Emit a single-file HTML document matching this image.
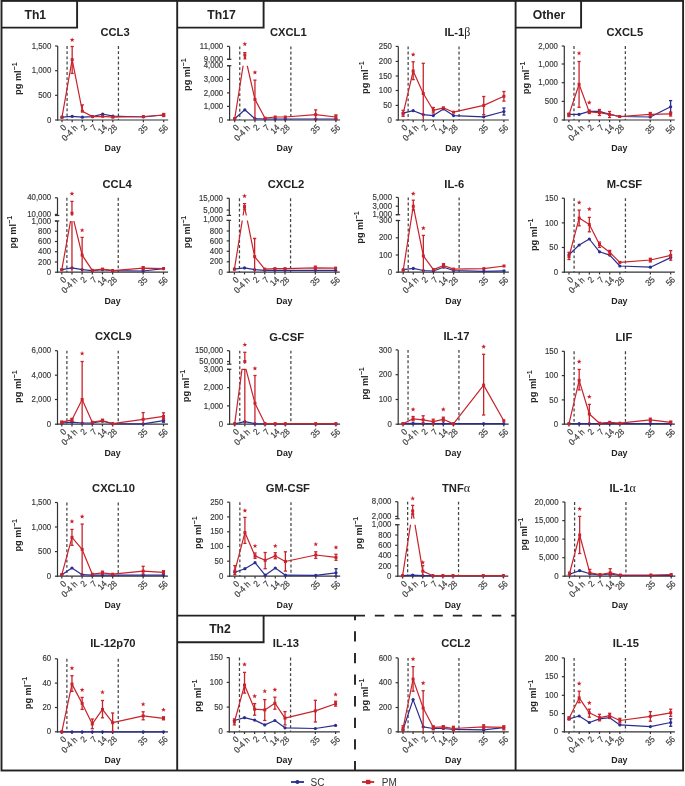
<!DOCTYPE html>
<html><head><meta charset="utf-8"><title>Cytokine figure</title><style>
html,body{margin:0;padding:0;background:#fff;overflow:hidden;}
svg{display:block;will-change:transform;}
text{font-family:"Liberation Sans", sans-serif;}
.hd{font-size:12.2px;font-weight:bold;fill:#222;text-anchor:middle;}
.ti{font-size:11.2px;font-weight:bold;fill:#222;text-anchor:middle;}
.gk{font-family:"Liberation Serif",serif;font-weight:normal;font-size:12px;}
.yl{font-size:9.2px;font-weight:bold;fill:#222;text-anchor:middle;}
.sup{font-size:7px;}
.day{font-size:9.6px;font-weight:bold;fill:#222;text-anchor:middle;}
.yt{font-size:8.7px;fill:#3a3a3a;text-anchor:end;stroke:#3a3a3a;stroke-width:0.18px;}
.xt{font-size:8.9px;fill:#3a3a3a;text-anchor:end;stroke:#3a3a3a;stroke-width:0.18px;}
.lg{font-size:10px;fill:#333;}
.st{font-size:11px;fill:#c8232b;text-anchor:middle;}
.ax{stroke:#333;stroke-width:1.2;fill:none;}
.dl{stroke:#444;stroke-width:1.25;stroke-dasharray:2.9 2.3;fill:none;}
.lpm{stroke:#c8232b;stroke-width:1.2;fill:none;stroke-linejoin:round;}
.lsc{stroke:#2b2d8e;stroke-width:1.2;fill:none;stroke-linejoin:round;}
.epm{stroke:#c8232b;stroke-width:1.3;fill:none;}
.esc{stroke:#2b2d8e;stroke-width:1.3;fill:none;}
</style></head>
<body><svg width="685" height="786" viewBox="0 0 685 786">
<rect x="1.5" y="0.9" width="681.6" height="769.6" fill="none" stroke="#222" stroke-width="1.9"/>
<line x1="177.2" y1="0" x2="177.2" y2="771" stroke="#222" stroke-width="1.9"/>
<line x1="515.6" y1="0" x2="515.6" y2="771" stroke="#222" stroke-width="1.9"/>
<polyline points="77.1,0 77.1,27.6 1.5,27.6" fill="none" stroke="#222" stroke-width="1.9"/>
<polyline points="263.6,0 263.6,27.6 177.2,27.6" fill="none" stroke="#222" stroke-width="1.9"/>
<polyline points="581.1,0 581.1,27.6 515.6,27.6" fill="none" stroke="#222" stroke-width="1.9"/>
<text x="35.3" y="18.6" class="hd">Th1</text>
<text x="221.5" y="18.6" class="hd">Th17</text>
<text x="549" y="18.6" class="hd">Other</text>
<line x1="177.2" y1="615.6" x2="365" y2="615.6" stroke="#222" stroke-width="1.9"/>
<line x1="374.8" y1="615.6" x2="515.6" y2="615.6" stroke="#222" stroke-width="1.9" stroke-dasharray="9.5 10"/>
<line x1="355" y1="615.6" x2="355" y2="620.3" stroke="#222" stroke-width="1.9"/>
<line x1="355" y1="631.3" x2="355" y2="771" stroke="#222" stroke-width="1.9" stroke-dasharray="10.3 11.3"/>
<polyline points="263.6,615.6 263.6,642.2 177.2,642.2" fill="none" stroke="#222" stroke-width="1.9"/>
<text x="220" y="633.3" class="hd">Th2</text>
<line x1="291" y1="782" x2="304" y2="782" stroke="#2b2d8e" stroke-width="1.8"/>
<circle cx="297.4" cy="782" r="2" fill="#2b2d8e"/>
<text x="310.6" y="785.6" class="lg">SC</text>
<line x1="362" y1="782" x2="374.2" y2="782" stroke="#c8232b" stroke-width="1.8"/>
<rect x="366" y="779.8" width="4.4" height="4.4" fill="#c8232b"/>
<text x="381.8" y="785.6" class="lg">PM</text>
<text x="115" y="36" class="ti">CCL3</text>
<text transform="translate(20.9 78.65) rotate(-90)" class="yl">pg ml<tspan dy="-3.8" class="sup">−1</tspan></text>
<text transform="translate(112.7 151.3) scale(0.92 1)" class="day">Day</text>
<line x1="57.7" y1="120.6" x2="57.7" y2="46" class="ax"/>
<line x1="57.1" y1="120" x2="168.2" y2="120" class="ax"/>
<line x1="55.1" y1="46" x2="57.7" y2="46" class="ax"/>
<text transform="translate(51.3 48.6) scale(0.9 1)" class="yt">1,500</text>
<line x1="55.1" y1="70.7" x2="57.7" y2="70.7" class="ax"/>
<text transform="translate(51.3 73.3) scale(0.9 1)" class="yt">1,000</text>
<line x1="55.1" y1="95.3" x2="57.7" y2="95.3" class="ax"/>
<text transform="translate(51.3 97.9) scale(0.9 1)" class="yt">500</text>
<line x1="55.1" y1="120" x2="57.7" y2="120" class="ax"/>
<text transform="translate(51.3 122.6) scale(0.9 1)" class="yt">0</text>
<line x1="62" y1="120" x2="62" y2="122.2" class="ax"/>
<text transform="translate(67 128.1) rotate(-45) scale(0.9 1)" class="xt">0</text>
<line x1="72.17" y1="120" x2="72.17" y2="122.2" class="ax"/>
<text transform="translate(78.07 128.7) rotate(-45) scale(0.9 1)" class="xt">0-4 h</text>
<line x1="82.34" y1="120" x2="82.34" y2="122.2" class="ax"/>
<text transform="translate(87.34 128.1) rotate(-45) scale(0.9 1)" class="xt">2</text>
<line x1="92.51" y1="120" x2="92.51" y2="122.2" class="ax"/>
<text transform="translate(97.51 128.1) rotate(-45) scale(0.9 1)" class="xt">7</text>
<line x1="102.68" y1="120" x2="102.68" y2="122.2" class="ax"/>
<text transform="translate(107.68 128.1) rotate(-45) scale(0.9 1)" class="xt">14</text>
<line x1="112.85" y1="120" x2="112.85" y2="122.2" class="ax"/>
<text transform="translate(117.85 128.1) rotate(-45) scale(0.9 1)" class="xt">28</text>
<line x1="143.36" y1="120" x2="143.36" y2="122.2" class="ax"/>
<text transform="translate(148.36 128.1) rotate(-45) scale(0.9 1)" class="xt">35</text>
<line x1="163.7" y1="120" x2="163.7" y2="122.2" class="ax"/>
<text transform="translate(168.7 128.1) rotate(-45) scale(0.9 1)" class="xt">56</text>
<line x1="67.08" y1="46" x2="67.08" y2="120" class="dl"/>
<line x1="118.44" y1="46" x2="118.44" y2="120" class="dl"/>
<g>
<polyline points="62,117.2 72.17,116.3 82.34,117.2 92.51,116.6 102.68,114 112.85,116.1 143.36,117 163.7,115" class="lsc"/>
</g>
<circle cx="62" cy="117.2" r="1.6" fill="#2b2d8e"/>
<circle cx="72.17" cy="116.3" r="1.6" fill="#2b2d8e"/>
<circle cx="82.34" cy="117.2" r="1.6" fill="#2b2d8e"/>
<circle cx="92.51" cy="116.6" r="1.6" fill="#2b2d8e"/>
<circle cx="102.68" cy="114" r="1.6" fill="#2b2d8e"/>
<circle cx="112.85" cy="116.1" r="1.6" fill="#2b2d8e"/>
<circle cx="143.36" cy="117" r="1.6" fill="#2b2d8e"/>
<circle cx="163.7" cy="115" r="1.6" fill="#2b2d8e"/>
<g>
<polyline points="62,117.2 72.17,59.6 82.34,111.2 92.51,116.6 102.68,116.3 112.85,117.2 143.36,116.5 163.7,115" class="lpm"/>
<line x1="72.17" y1="73.4" x2="72.17" y2="46.5" class="epm"/>
<line x1="70.57" y1="46.5" x2="73.77" y2="46.5" class="epm"/>
<line x1="70.57" y1="73.4" x2="73.77" y2="73.4" class="epm"/>
<line x1="82.34" y1="111.2" x2="82.34" y2="104.9" class="epm"/>
<line x1="80.74" y1="104.9" x2="83.94" y2="104.9" class="epm"/>
<line x1="163.7" y1="116.5" x2="163.7" y2="113.5" class="epm"/>
<line x1="162.1" y1="113.5" x2="165.3" y2="113.5" class="epm"/>
<line x1="162.1" y1="116.5" x2="165.3" y2="116.5" class="epm"/>
</g>
<rect x="60.5" y="115.7" width="3" height="3" fill="#c8232b"/>
<rect x="70.67" y="58.1" width="3" height="3" fill="#c8232b"/>
<rect x="80.84" y="109.7" width="3" height="3" fill="#c8232b"/>
<rect x="91.01" y="115.1" width="3" height="3" fill="#c8232b"/>
<rect x="101.18" y="114.8" width="3" height="3" fill="#c8232b"/>
<rect x="111.35" y="115.7" width="3" height="3" fill="#c8232b"/>
<rect x="141.86" y="115" width="3" height="3" fill="#c8232b"/>
<rect x="162.2" y="113.5" width="3" height="3" fill="#c8232b"/>
<polygon points="72.17,37.4 72.79,39.05 74.55,39.13 73.17,40.22 73.64,41.92 72.17,40.95 70.7,41.92 71.17,40.22 69.79,39.13 71.55,39.05" fill="#c8232b"/>

<text x="288.3" y="36" class="ti">CXCL1</text>
<text transform="translate(189.9 74.7) rotate(-90)" class="yl">pg ml<tspan dy="-3.8" class="sup">−1</tspan></text>
<text transform="translate(284.6 151.3) scale(0.92 1)" class="day">Day</text>
<line x1="229.6" y1="120.6" x2="229.6" y2="65.7" class="ax"/>
<line x1="229.6" y1="59.3" x2="229.6" y2="46.4" class="ax"/>
<line x1="227" y1="59.3" x2="231.4" y2="59.3" class="ax"/>
<line x1="227" y1="65.7" x2="231.4" y2="65.7" class="ax"/>
<line x1="229" y1="120" x2="340.1" y2="120" class="ax"/>
<line x1="227" y1="46.4" x2="229.6" y2="46.4" class="ax"/>
<text transform="translate(223.2 49) scale(0.9 1)" class="yt">11,000</text>
<line x1="227" y1="59.3" x2="229.6" y2="59.3" class="ax"/>
<text transform="translate(223.2 61.9) scale(0.9 1)" class="yt">9,000</text>
<line x1="227" y1="65.7" x2="229.6" y2="65.7" class="ax"/>
<text transform="translate(223.2 68.3) scale(0.9 1)" class="yt">4,000</text>
<line x1="227" y1="79.4" x2="229.6" y2="79.4" class="ax"/>
<text transform="translate(223.2 82) scale(0.9 1)" class="yt">3,000</text>
<line x1="227" y1="92.9" x2="229.6" y2="92.9" class="ax"/>
<text transform="translate(223.2 95.5) scale(0.9 1)" class="yt">2,000</text>
<line x1="227" y1="106.4" x2="229.6" y2="106.4" class="ax"/>
<text transform="translate(223.2 109) scale(0.9 1)" class="yt">1,000</text>
<line x1="227" y1="120" x2="229.6" y2="120" class="ax"/>
<text transform="translate(223.2 122.6) scale(0.9 1)" class="yt">0</text>
<line x1="234.7" y1="120" x2="234.7" y2="122.2" class="ax"/>
<text transform="translate(239.7 128.1) rotate(-45) scale(0.9 1)" class="xt">0</text>
<line x1="244.82" y1="120" x2="244.82" y2="122.2" class="ax"/>
<text transform="translate(250.72 128.7) rotate(-45) scale(0.9 1)" class="xt">0-4 h</text>
<line x1="254.94" y1="120" x2="254.94" y2="122.2" class="ax"/>
<text transform="translate(259.94 128.1) rotate(-45) scale(0.9 1)" class="xt">2</text>
<line x1="265.06" y1="120" x2="265.06" y2="122.2" class="ax"/>
<text transform="translate(270.06 128.1) rotate(-45) scale(0.9 1)" class="xt">7</text>
<line x1="275.18" y1="120" x2="275.18" y2="122.2" class="ax"/>
<text transform="translate(280.18 128.1) rotate(-45) scale(0.9 1)" class="xt">14</text>
<line x1="285.3" y1="120" x2="285.3" y2="122.2" class="ax"/>
<text transform="translate(290.3 128.1) rotate(-45) scale(0.9 1)" class="xt">28</text>
<line x1="315.66" y1="120" x2="315.66" y2="122.2" class="ax"/>
<text transform="translate(320.66 128.1) rotate(-45) scale(0.9 1)" class="xt">35</text>
<line x1="335.9" y1="120" x2="335.9" y2="122.2" class="ax"/>
<text transform="translate(340.9 128.1) rotate(-45) scale(0.9 1)" class="xt">56</text>
<line x1="239.76" y1="46.4" x2="239.76" y2="120" class="dl"/>
<line x1="290.87" y1="46.4" x2="290.87" y2="120" class="dl"/>
<clipPath id="c1"><rect x="224.6" y="10" width="125" height="49.3"/><rect x="224.6" y="65.7" width="125" height="64.3"/></clipPath>
<g clip-path="url(#c1)">
<polyline points="234.7,118.7 244.82,109.8 254.94,118.7 265.06,119 275.18,119 285.3,119 315.66,119 335.9,119" class="lsc"/>
</g>
<circle cx="234.7" cy="118.7" r="1.6" fill="#2b2d8e"/>
<circle cx="244.82" cy="109.8" r="1.6" fill="#2b2d8e"/>
<circle cx="254.94" cy="118.7" r="1.6" fill="#2b2d8e"/>
<circle cx="265.06" cy="119" r="1.6" fill="#2b2d8e"/>
<circle cx="275.18" cy="119" r="1.6" fill="#2b2d8e"/>
<circle cx="285.3" cy="119" r="1.6" fill="#2b2d8e"/>
<circle cx="315.66" cy="119" r="1.6" fill="#2b2d8e"/>
<circle cx="335.9" cy="119" r="1.6" fill="#2b2d8e"/>
<g clip-path="url(#c1)">
<polyline points="234.7,118.7 244.82,55 254.94,99.4 265.06,118.2 275.18,117 285.3,117 315.66,114.6 335.9,117" class="lpm"/>
<line x1="244.82" y1="59.6" x2="244.82" y2="52.6" class="epm"/>
<line x1="243.22" y1="52.6" x2="246.42" y2="52.6" class="epm"/>
<line x1="243.22" y1="59.6" x2="246.42" y2="59.6" class="epm"/>
<line x1="254.94" y1="120" x2="254.94" y2="80.1" class="epm"/>
<line x1="253.34" y1="80.1" x2="256.54" y2="80.1" class="epm"/>
<line x1="315.66" y1="118.7" x2="315.66" y2="109.8" class="epm"/>
<line x1="314.06" y1="109.8" x2="317.26" y2="109.8" class="epm"/>
<line x1="314.06" y1="118.7" x2="317.26" y2="118.7" class="epm"/>
<line x1="335.9" y1="119" x2="335.9" y2="115" class="epm"/>
<line x1="334.3" y1="115" x2="337.5" y2="115" class="epm"/>
<line x1="334.3" y1="119" x2="337.5" y2="119" class="epm"/>
</g>
<rect x="233.2" y="117.2" width="3" height="3" fill="#c8232b"/>
<rect x="243.32" y="53.5" width="3" height="3" fill="#c8232b"/>
<rect x="253.44" y="97.9" width="3" height="3" fill="#c8232b"/>
<rect x="263.56" y="116.7" width="3" height="3" fill="#c8232b"/>
<rect x="273.68" y="115.5" width="3" height="3" fill="#c8232b"/>
<rect x="283.8" y="115.5" width="3" height="3" fill="#c8232b"/>
<rect x="314.16" y="113.1" width="3" height="3" fill="#c8232b"/>
<rect x="334.4" y="115.5" width="3" height="3" fill="#c8232b"/>
<polygon points="244.82,41.6 245.44,43.25 247.2,43.33 245.82,44.42 246.29,46.12 244.82,45.15 243.35,46.12 243.82,44.42 242.44,43.33 244.2,43.25" fill="#c8232b"/>
<polygon points="254.94,69.9 255.56,71.55 257.32,71.63 255.94,72.72 256.41,74.42 254.94,73.45 253.47,74.42 253.94,72.72 252.56,71.63 254.32,71.55" fill="#c8232b"/>

<text x="457.4" y="36" class="ti">IL-1<tspan class="gk">β</tspan></text>
<text transform="translate(367.8 77.7) rotate(-90)" class="yl">pg ml<tspan dy="-3.8" class="sup">−1</tspan></text>
<text transform="translate(453.3 151.3) scale(0.92 1)" class="day">Day</text>
<line x1="398.3" y1="120.6" x2="398.3" y2="46.4" class="ax"/>
<line x1="397.7" y1="120" x2="508.8" y2="120" class="ax"/>
<line x1="395.7" y1="46.4" x2="398.3" y2="46.4" class="ax"/>
<text transform="translate(391.9 49) scale(0.9 1)" class="yt">250</text>
<line x1="395.7" y1="61.4" x2="398.3" y2="61.4" class="ax"/>
<text transform="translate(391.9 64) scale(0.9 1)" class="yt">200</text>
<line x1="395.7" y1="76" x2="398.3" y2="76" class="ax"/>
<text transform="translate(391.9 78.6) scale(0.9 1)" class="yt">150</text>
<line x1="395.7" y1="90.5" x2="398.3" y2="90.5" class="ax"/>
<text transform="translate(391.9 93.1) scale(0.9 1)" class="yt">100</text>
<line x1="395.7" y1="105.4" x2="398.3" y2="105.4" class="ax"/>
<text transform="translate(391.9 108) scale(0.9 1)" class="yt">50</text>
<line x1="395.7" y1="120" x2="398.3" y2="120" class="ax"/>
<text transform="translate(391.9 122.6) scale(0.9 1)" class="yt">0</text>
<line x1="403.1" y1="120" x2="403.1" y2="122.2" class="ax"/>
<text transform="translate(408.1 128.1) rotate(-45) scale(0.9 1)" class="xt">0</text>
<line x1="413.18" y1="120" x2="413.18" y2="122.2" class="ax"/>
<text transform="translate(419.08 128.7) rotate(-45) scale(0.9 1)" class="xt">0-4 h</text>
<line x1="423.26" y1="120" x2="423.26" y2="122.2" class="ax"/>
<text transform="translate(428.26 128.1) rotate(-45) scale(0.9 1)" class="xt">2</text>
<line x1="433.34" y1="120" x2="433.34" y2="122.2" class="ax"/>
<text transform="translate(438.34 128.1) rotate(-45) scale(0.9 1)" class="xt">7</text>
<line x1="443.42" y1="120" x2="443.42" y2="122.2" class="ax"/>
<text transform="translate(448.42 128.1) rotate(-45) scale(0.9 1)" class="xt">14</text>
<line x1="453.5" y1="120" x2="453.5" y2="122.2" class="ax"/>
<text transform="translate(458.5 128.1) rotate(-45) scale(0.9 1)" class="xt">28</text>
<line x1="483.74" y1="120" x2="483.74" y2="122.2" class="ax"/>
<text transform="translate(488.74 128.1) rotate(-45) scale(0.9 1)" class="xt">35</text>
<line x1="503.9" y1="120" x2="503.9" y2="122.2" class="ax"/>
<text transform="translate(508.9 128.1) rotate(-45) scale(0.9 1)" class="xt">56</text>
<line x1="408.14" y1="46.4" x2="408.14" y2="120" class="dl"/>
<line x1="459.04" y1="46.4" x2="459.04" y2="120" class="dl"/>
<g>
<polyline points="403.1,113.1 413.18,110.7 423.26,114.6 433.34,115.6 443.42,109 453.5,115.6 483.74,116.8 503.9,111.5" class="lsc"/>
<line x1="503.9" y1="115" x2="503.9" y2="108" class="esc"/>
<line x1="502.3" y1="108" x2="505.5" y2="108" class="esc"/>
<line x1="502.3" y1="115" x2="505.5" y2="115" class="esc"/>
</g>
<circle cx="403.1" cy="113.1" r="1.6" fill="#2b2d8e"/>
<circle cx="413.18" cy="110.7" r="1.6" fill="#2b2d8e"/>
<circle cx="423.26" cy="114.6" r="1.6" fill="#2b2d8e"/>
<circle cx="433.34" cy="115.6" r="1.6" fill="#2b2d8e"/>
<circle cx="443.42" cy="109" r="1.6" fill="#2b2d8e"/>
<circle cx="453.5" cy="115.6" r="1.6" fill="#2b2d8e"/>
<circle cx="483.74" cy="116.8" r="1.6" fill="#2b2d8e"/>
<circle cx="503.9" cy="111.5" r="1.6" fill="#2b2d8e"/>
<g>
<polyline points="403.1,113.9 413.18,71 423.26,93.5 433.34,110.3 443.42,107.8 453.5,112.2 483.74,105.4 503.9,96.3" class="lpm"/>
<line x1="403.1" y1="116.3" x2="403.1" y2="110.3" class="epm"/>
<line x1="401.5" y1="110.3" x2="404.7" y2="110.3" class="epm"/>
<line x1="401.5" y1="116.3" x2="404.7" y2="116.3" class="epm"/>
<line x1="413.18" y1="79.6" x2="413.18" y2="61.8" class="epm"/>
<line x1="411.58" y1="61.8" x2="414.78" y2="61.8" class="epm"/>
<line x1="411.58" y1="79.6" x2="414.78" y2="79.6" class="epm"/>
<line x1="423.26" y1="120" x2="423.26" y2="63.3" class="epm"/>
<line x1="421.66" y1="63.3" x2="424.86" y2="63.3" class="epm"/>
<line x1="433.34" y1="113" x2="433.34" y2="107.5" class="epm"/>
<line x1="431.74" y1="107.5" x2="434.94" y2="107.5" class="epm"/>
<line x1="431.74" y1="113" x2="434.94" y2="113" class="epm"/>
<line x1="483.74" y1="114.6" x2="483.74" y2="96.5" class="epm"/>
<line x1="482.14" y1="96.5" x2="485.34" y2="96.5" class="epm"/>
<line x1="482.14" y1="114.6" x2="485.34" y2="114.6" class="epm"/>
<line x1="503.9" y1="101.1" x2="503.9" y2="91.5" class="epm"/>
<line x1="502.3" y1="91.5" x2="505.5" y2="91.5" class="epm"/>
<line x1="502.3" y1="101.1" x2="505.5" y2="101.1" class="epm"/>
</g>
<rect x="401.6" y="112.4" width="3" height="3" fill="#c8232b"/>
<rect x="411.68" y="69.5" width="3" height="3" fill="#c8232b"/>
<rect x="421.76" y="92" width="3" height="3" fill="#c8232b"/>
<rect x="431.84" y="108.8" width="3" height="3" fill="#c8232b"/>
<rect x="441.92" y="106.3" width="3" height="3" fill="#c8232b"/>
<rect x="452" y="110.7" width="3" height="3" fill="#c8232b"/>
<rect x="482.24" y="103.9" width="3" height="3" fill="#c8232b"/>
<rect x="502.4" y="94.8" width="3" height="3" fill="#c8232b"/>
<polygon points="413.18,52.1 413.8,53.75 415.56,53.83 414.18,54.92 414.65,56.62 413.18,55.65 411.71,56.62 412.18,54.92 410.8,53.83 412.56,53.75" fill="#c8232b"/>

<text x="624.8" y="36" class="ti">CXCL5</text>
<text transform="translate(528.7 77.9) rotate(-90)" class="yl">pg ml<tspan dy="-3.8" class="sup">−1</tspan></text>
<text transform="translate(619.3 151.3) scale(0.92 1)" class="day">Day</text>
<line x1="564.3" y1="120.6" x2="564.3" y2="46" class="ax"/>
<line x1="563.7" y1="120" x2="674.8" y2="120" class="ax"/>
<line x1="561.7" y1="46" x2="564.3" y2="46" class="ax"/>
<text transform="translate(557.9 48.6) scale(0.9 1)" class="yt">2,000</text>
<line x1="561.7" y1="64" x2="564.3" y2="64" class="ax"/>
<text transform="translate(557.9 66.6) scale(0.9 1)" class="yt">1,000</text>
<line x1="561.7" y1="82.7" x2="564.3" y2="82.7" class="ax"/>
<text transform="translate(557.9 85.3) scale(0.9 1)" class="yt">1,000</text>
<line x1="561.7" y1="101.4" x2="564.3" y2="101.4" class="ax"/>
<text transform="translate(557.9 104) scale(0.9 1)" class="yt">500</text>
<line x1="561.7" y1="120" x2="564.3" y2="120" class="ax"/>
<text transform="translate(557.9 122.6) scale(0.9 1)" class="yt">0</text>
<line x1="568.9" y1="120" x2="568.9" y2="122.2" class="ax"/>
<text transform="translate(573.9 128.1) rotate(-45) scale(0.9 1)" class="xt">0</text>
<line x1="579.07" y1="120" x2="579.07" y2="122.2" class="ax"/>
<text transform="translate(584.97 128.7) rotate(-45) scale(0.9 1)" class="xt">0-4 h</text>
<line x1="589.24" y1="120" x2="589.24" y2="122.2" class="ax"/>
<text transform="translate(594.24 128.1) rotate(-45) scale(0.9 1)" class="xt">2</text>
<line x1="599.41" y1="120" x2="599.41" y2="122.2" class="ax"/>
<text transform="translate(604.41 128.1) rotate(-45) scale(0.9 1)" class="xt">7</text>
<line x1="609.58" y1="120" x2="609.58" y2="122.2" class="ax"/>
<text transform="translate(614.58 128.1) rotate(-45) scale(0.9 1)" class="xt">14</text>
<line x1="619.75" y1="120" x2="619.75" y2="122.2" class="ax"/>
<text transform="translate(624.75 128.1) rotate(-45) scale(0.9 1)" class="xt">28</text>
<line x1="650.26" y1="120" x2="650.26" y2="122.2" class="ax"/>
<text transform="translate(655.26 128.1) rotate(-45) scale(0.9 1)" class="xt">35</text>
<line x1="670.6" y1="120" x2="670.6" y2="122.2" class="ax"/>
<text transform="translate(675.6 128.1) rotate(-45) scale(0.9 1)" class="xt">56</text>
<line x1="573.99" y1="46" x2="573.99" y2="120" class="dl"/>
<line x1="625.34" y1="46" x2="625.34" y2="120" class="dl"/>
<g>
<polyline points="568.9,114.4 579.07,114.4 589.24,111.4 599.41,111.4 609.58,114.4 619.75,116.5 650.26,117 670.6,106.8" class="lsc"/>
<line x1="670.6" y1="113.1" x2="670.6" y2="100.6" class="esc"/>
<line x1="669" y1="100.6" x2="672.2" y2="100.6" class="esc"/>
<line x1="669" y1="113.1" x2="672.2" y2="113.1" class="esc"/>
</g>
<circle cx="568.9" cy="114.4" r="1.6" fill="#2b2d8e"/>
<circle cx="579.07" cy="114.4" r="1.6" fill="#2b2d8e"/>
<circle cx="589.24" cy="111.4" r="1.6" fill="#2b2d8e"/>
<circle cx="599.41" cy="111.4" r="1.6" fill="#2b2d8e"/>
<circle cx="609.58" cy="114.4" r="1.6" fill="#2b2d8e"/>
<circle cx="619.75" cy="116.5" r="1.6" fill="#2b2d8e"/>
<circle cx="650.26" cy="117" r="1.6" fill="#2b2d8e"/>
<circle cx="670.6" cy="106.8" r="1.6" fill="#2b2d8e"/>
<g>
<polyline points="568.9,114.9 579.07,84.3 589.24,111.9 599.41,112.6 609.58,114.4 619.75,116.5 650.26,114.4 670.6,113.9" class="lpm"/>
<line x1="568.9" y1="116.5" x2="568.9" y2="113.2" class="epm"/>
<line x1="567.3" y1="113.2" x2="570.5" y2="113.2" class="epm"/>
<line x1="567.3" y1="116.5" x2="570.5" y2="116.5" class="epm"/>
<line x1="579.07" y1="107.3" x2="579.07" y2="61.5" class="epm"/>
<line x1="577.47" y1="61.5" x2="580.67" y2="61.5" class="epm"/>
<line x1="577.47" y1="107.3" x2="580.67" y2="107.3" class="epm"/>
<line x1="589.24" y1="113.5" x2="589.24" y2="110" class="epm"/>
<line x1="587.64" y1="110" x2="590.84" y2="110" class="epm"/>
<line x1="587.64" y1="113.5" x2="590.84" y2="113.5" class="epm"/>
<line x1="599.41" y1="115.5" x2="599.41" y2="109.5" class="epm"/>
<line x1="597.81" y1="109.5" x2="601.01" y2="109.5" class="epm"/>
<line x1="597.81" y1="115.5" x2="601.01" y2="115.5" class="epm"/>
<line x1="609.58" y1="117.5" x2="609.58" y2="111.5" class="epm"/>
<line x1="607.98" y1="111.5" x2="611.18" y2="111.5" class="epm"/>
<line x1="607.98" y1="117.5" x2="611.18" y2="117.5" class="epm"/>
<line x1="650.26" y1="116.5" x2="650.26" y2="112.5" class="epm"/>
<line x1="648.66" y1="112.5" x2="651.86" y2="112.5" class="epm"/>
<line x1="648.66" y1="116.5" x2="651.86" y2="116.5" class="epm"/>
<line x1="670.6" y1="116" x2="670.6" y2="112" class="epm"/>
<line x1="669" y1="112" x2="672.2" y2="112" class="epm"/>
<line x1="669" y1="116" x2="672.2" y2="116" class="epm"/>
</g>
<rect x="567.4" y="113.4" width="3" height="3" fill="#c8232b"/>
<rect x="577.57" y="82.8" width="3" height="3" fill="#c8232b"/>
<rect x="587.74" y="110.4" width="3" height="3" fill="#c8232b"/>
<rect x="597.91" y="111.1" width="3" height="3" fill="#c8232b"/>
<rect x="608.08" y="112.9" width="3" height="3" fill="#c8232b"/>
<rect x="618.25" y="115" width="3" height="3" fill="#c8232b"/>
<rect x="648.76" y="112.9" width="3" height="3" fill="#c8232b"/>
<rect x="669.1" y="112.4" width="3" height="3" fill="#c8232b"/>
<polygon points="579.07,50.8 579.69,52.45 581.45,52.53 580.07,53.62 580.54,55.32 579.07,54.35 577.6,55.32 578.07,53.62 576.69,52.53 578.45,52.45" fill="#c8232b"/>
<polygon points="589.24,100.1 589.86,101.75 591.62,101.83 590.24,102.92 590.71,104.62 589.24,103.65 587.77,104.62 588.24,102.92 586.86,101.83 588.62,101.75" fill="#c8232b"/>

<text x="117.1" y="187.7" class="ti">CCL4</text>
<text transform="translate(16 232.2) rotate(-90)" class="yl">pg ml<tspan dy="-3.8" class="sup">−1</tspan></text>
<text transform="translate(112.5 303.5) scale(0.92 1)" class="day">Day</text>
<line x1="57.5" y1="272.8" x2="57.5" y2="221" class="ax"/>
<line x1="57.5" y1="215.5" x2="57.5" y2="197.8" class="ax"/>
<line x1="54.9" y1="215.5" x2="59.3" y2="215.5" class="ax"/>
<line x1="54.9" y1="221" x2="59.3" y2="221" class="ax"/>
<line x1="56.9" y1="272.2" x2="168" y2="272.2" class="ax"/>
<line x1="54.9" y1="197.8" x2="57.5" y2="197.8" class="ax"/>
<text transform="translate(51.1 200.4) scale(0.9 1)" class="yt">40,000</text>
<line x1="54.9" y1="214.4" x2="57.5" y2="214.4" class="ax"/>
<text transform="translate(51.1 217) scale(0.9 1)" class="yt">10,000</text>
<line x1="54.9" y1="221" x2="57.5" y2="221" class="ax"/>
<text transform="translate(51.1 223.6) scale(0.9 1)" class="yt">1,000</text>
<line x1="54.9" y1="231.2" x2="57.5" y2="231.2" class="ax"/>
<text transform="translate(51.1 233.8) scale(0.9 1)" class="yt">800</text>
<line x1="54.9" y1="241.5" x2="57.5" y2="241.5" class="ax"/>
<text transform="translate(51.1 244.1) scale(0.9 1)" class="yt">600</text>
<line x1="54.9" y1="251.7" x2="57.5" y2="251.7" class="ax"/>
<text transform="translate(51.1 254.3) scale(0.9 1)" class="yt">400</text>
<line x1="54.9" y1="262" x2="57.5" y2="262" class="ax"/>
<text transform="translate(51.1 264.6) scale(0.9 1)" class="yt">200</text>
<line x1="54.9" y1="272.2" x2="57.5" y2="272.2" class="ax"/>
<text transform="translate(51.1 274.8) scale(0.9 1)" class="yt">0</text>
<line x1="61.8" y1="272.2" x2="61.8" y2="274.4" class="ax"/>
<text transform="translate(66.8 280.3) rotate(-45) scale(0.9 1)" class="xt">0</text>
<line x1="71.97" y1="272.2" x2="71.97" y2="274.4" class="ax"/>
<text transform="translate(77.87 280.9) rotate(-45) scale(0.9 1)" class="xt">0-4 h</text>
<line x1="82.14" y1="272.2" x2="82.14" y2="274.4" class="ax"/>
<text transform="translate(87.14 280.3) rotate(-45) scale(0.9 1)" class="xt">2</text>
<line x1="92.31" y1="272.2" x2="92.31" y2="274.4" class="ax"/>
<text transform="translate(97.31 280.3) rotate(-45) scale(0.9 1)" class="xt">7</text>
<line x1="102.48" y1="272.2" x2="102.48" y2="274.4" class="ax"/>
<text transform="translate(107.48 280.3) rotate(-45) scale(0.9 1)" class="xt">14</text>
<line x1="112.65" y1="272.2" x2="112.65" y2="274.4" class="ax"/>
<text transform="translate(117.65 280.3) rotate(-45) scale(0.9 1)" class="xt">28</text>
<line x1="143.16" y1="272.2" x2="143.16" y2="274.4" class="ax"/>
<text transform="translate(148.16 280.3) rotate(-45) scale(0.9 1)" class="xt">35</text>
<line x1="163.5" y1="272.2" x2="163.5" y2="274.4" class="ax"/>
<text transform="translate(168.5 280.3) rotate(-45) scale(0.9 1)" class="xt">56</text>
<line x1="66.88" y1="197.8" x2="66.88" y2="272.2" class="dl"/>
<line x1="118.24" y1="197.8" x2="118.24" y2="272.2" class="dl"/>
<clipPath id="c2"><rect x="52.5" y="162.2" width="125" height="53.3"/><rect x="52.5" y="221" width="125" height="61.2"/></clipPath>
<g clip-path="url(#c2)">
<polyline points="61.8,269.6 71.97,267.9 82.14,269.6 92.31,270.6 102.48,269.7 112.65,270.6 143.16,271 163.5,268.6" class="lsc"/>
</g>
<circle cx="61.8" cy="269.6" r="1.6" fill="#2b2d8e"/>
<circle cx="71.97" cy="267.9" r="1.6" fill="#2b2d8e"/>
<circle cx="82.14" cy="269.6" r="1.6" fill="#2b2d8e"/>
<circle cx="92.31" cy="270.6" r="1.6" fill="#2b2d8e"/>
<circle cx="102.48" cy="269.7" r="1.6" fill="#2b2d8e"/>
<circle cx="112.65" cy="270.6" r="1.6" fill="#2b2d8e"/>
<circle cx="143.16" cy="271" r="1.6" fill="#2b2d8e"/>
<circle cx="163.5" cy="268.6" r="1.6" fill="#2b2d8e"/>
<g clip-path="url(#c2)">
<polyline points="61.8,269.6 71.97,213.2 82.14,255.1 92.31,270.3 102.48,269.1 112.65,270.6 143.16,268.1 163.5,268.6" class="lpm"/>
<line x1="71.97" y1="271.5" x2="71.97" y2="221" class="epm"/>
<line x1="71.97" y1="215.2" x2="71.97" y2="201.3" class="epm"/>
<line x1="70.37" y1="201.3" x2="73.57" y2="201.3" class="epm"/>
<line x1="82.14" y1="272.2" x2="82.14" y2="237.3" class="epm"/>
<line x1="80.54" y1="237.3" x2="83.74" y2="237.3" class="epm"/>
<line x1="143.16" y1="269.7" x2="143.16" y2="266.7" class="epm"/>
<line x1="141.56" y1="266.7" x2="144.76" y2="266.7" class="epm"/>
<line x1="141.56" y1="269.7" x2="144.76" y2="269.7" class="epm"/>
</g>
<rect x="60.3" y="268.1" width="3" height="3" fill="#c8232b"/>
<rect x="70.47" y="211.7" width="3" height="3" fill="#c8232b"/>
<rect x="80.64" y="253.6" width="3" height="3" fill="#c8232b"/>
<rect x="90.81" y="268.8" width="3" height="3" fill="#c8232b"/>
<rect x="100.98" y="267.6" width="3" height="3" fill="#c8232b"/>
<rect x="111.15" y="269.1" width="3" height="3" fill="#c8232b"/>
<rect x="141.66" y="266.6" width="3" height="3" fill="#c8232b"/>
<rect x="162" y="267.1" width="3" height="3" fill="#c8232b"/>
<polygon points="71.97,191.2 72.59,192.85 74.35,192.93 72.97,194.02 73.44,195.72 71.97,194.75 70.5,195.72 70.97,194.02 69.59,192.93 71.35,192.85" fill="#c8232b"/>
<polygon points="82.14,227.8 82.76,229.45 84.52,229.53 83.14,230.62 83.61,232.32 82.14,231.35 80.67,232.32 81.14,230.62 79.76,229.53 81.52,229.45" fill="#c8232b"/>

<text x="286" y="187.7" class="ti">CXCL2</text>
<text transform="translate(190 232) rotate(-90)" class="yl">pg ml<tspan dy="-3.8" class="sup">−1</tspan></text>
<text transform="translate(284.3 303.5) scale(0.92 1)" class="day">Day</text>
<line x1="229.3" y1="272.8" x2="229.3" y2="220.4" class="ax"/>
<line x1="229.3" y1="215.4" x2="229.3" y2="198.3" class="ax"/>
<line x1="226.7" y1="215.4" x2="231.1" y2="215.4" class="ax"/>
<line x1="226.7" y1="220.4" x2="231.1" y2="220.4" class="ax"/>
<line x1="228.7" y1="272.2" x2="339.8" y2="272.2" class="ax"/>
<line x1="226.7" y1="198.3" x2="229.3" y2="198.3" class="ax"/>
<text transform="translate(222.9 200.9) scale(0.9 1)" class="yt">15,000</text>
<line x1="226.7" y1="210.1" x2="229.3" y2="210.1" class="ax"/>
<text transform="translate(222.9 212.7) scale(0.9 1)" class="yt">5,000</text>
<line x1="226.7" y1="220.4" x2="229.3" y2="220.4" class="ax"/>
<text transform="translate(222.9 221.8) scale(0.9 1)" class="yt">1,000</text>
<line x1="226.7" y1="231" x2="229.3" y2="231" class="ax"/>
<text transform="translate(222.9 233.6) scale(0.9 1)" class="yt">800</text>
<line x1="226.7" y1="240.9" x2="229.3" y2="240.9" class="ax"/>
<text transform="translate(222.9 243.5) scale(0.9 1)" class="yt">600</text>
<line x1="226.7" y1="251.3" x2="229.3" y2="251.3" class="ax"/>
<text transform="translate(222.9 253.9) scale(0.9 1)" class="yt">400</text>
<line x1="226.7" y1="261.8" x2="229.3" y2="261.8" class="ax"/>
<text transform="translate(222.9 264.4) scale(0.9 1)" class="yt">200</text>
<line x1="226.7" y1="272.2" x2="229.3" y2="272.2" class="ax"/>
<text transform="translate(222.9 274.8) scale(0.9 1)" class="yt">0</text>
<line x1="234.4" y1="272.2" x2="234.4" y2="274.4" class="ax"/>
<text transform="translate(239.4 280.3) rotate(-45) scale(0.9 1)" class="xt">0</text>
<line x1="244.52" y1="272.2" x2="244.52" y2="274.4" class="ax"/>
<text transform="translate(250.42 280.9) rotate(-45) scale(0.9 1)" class="xt">0-4 h</text>
<line x1="254.64" y1="272.2" x2="254.64" y2="274.4" class="ax"/>
<text transform="translate(259.64 280.3) rotate(-45) scale(0.9 1)" class="xt">2</text>
<line x1="264.76" y1="272.2" x2="264.76" y2="274.4" class="ax"/>
<text transform="translate(269.76 280.3) rotate(-45) scale(0.9 1)" class="xt">7</text>
<line x1="274.88" y1="272.2" x2="274.88" y2="274.4" class="ax"/>
<text transform="translate(279.88 280.3) rotate(-45) scale(0.9 1)" class="xt">14</text>
<line x1="285" y1="272.2" x2="285" y2="274.4" class="ax"/>
<text transform="translate(290 280.3) rotate(-45) scale(0.9 1)" class="xt">28</text>
<line x1="315.36" y1="272.2" x2="315.36" y2="274.4" class="ax"/>
<text transform="translate(320.36 280.3) rotate(-45) scale(0.9 1)" class="xt">35</text>
<line x1="335.6" y1="272.2" x2="335.6" y2="274.4" class="ax"/>
<text transform="translate(340.6 280.3) rotate(-45) scale(0.9 1)" class="xt">56</text>
<line x1="239.46" y1="198.3" x2="239.46" y2="272.2" class="dl"/>
<line x1="290.57" y1="198.3" x2="290.57" y2="272.2" class="dl"/>
<clipPath id="c3"><rect x="224.3" y="162.2" width="125" height="53.2"/><rect x="224.3" y="220.4" width="125" height="61.8"/></clipPath>
<g clip-path="url(#c3)">
<polyline points="234.4,269.1 244.52,267.9 254.64,269.6 264.76,270.3 274.88,270.3 285,270.3 315.36,270.3 335.6,270.3" class="lsc"/>
</g>
<circle cx="234.4" cy="269.1" r="1.6" fill="#2b2d8e"/>
<circle cx="244.52" cy="267.9" r="1.6" fill="#2b2d8e"/>
<circle cx="254.64" cy="269.6" r="1.6" fill="#2b2d8e"/>
<circle cx="264.76" cy="270.3" r="1.6" fill="#2b2d8e"/>
<circle cx="274.88" cy="270.3" r="1.6" fill="#2b2d8e"/>
<circle cx="285" cy="270.3" r="1.6" fill="#2b2d8e"/>
<circle cx="315.36" cy="270.3" r="1.6" fill="#2b2d8e"/>
<circle cx="335.6" cy="270.3" r="1.6" fill="#2b2d8e"/>
<g clip-path="url(#c3)">
<polyline points="234.4,269.1 244.52,206.6 254.64,256.6 264.76,269.1 274.88,268.6 285,268.6 315.36,267.9 335.6,268.1" class="lpm"/>
<line x1="244.52" y1="209.2" x2="244.52" y2="203.6" class="epm"/>
<line x1="242.92" y1="203.6" x2="246.12" y2="203.6" class="epm"/>
<line x1="242.92" y1="209.2" x2="246.12" y2="209.2" class="epm"/>
<line x1="254.64" y1="272.2" x2="254.64" y2="238.5" class="epm"/>
<line x1="253.04" y1="238.5" x2="256.24" y2="238.5" class="epm"/>
<line x1="315.36" y1="269.2" x2="315.36" y2="266.2" class="epm"/>
<line x1="313.76" y1="266.2" x2="316.96" y2="266.2" class="epm"/>
<line x1="313.76" y1="269.2" x2="316.96" y2="269.2" class="epm"/>
</g>
<rect x="232.9" y="267.6" width="3" height="3" fill="#c8232b"/>
<rect x="243.02" y="205.1" width="3" height="3" fill="#c8232b"/>
<rect x="253.14" y="255.1" width="3" height="3" fill="#c8232b"/>
<rect x="263.26" y="267.6" width="3" height="3" fill="#c8232b"/>
<rect x="273.38" y="267.1" width="3" height="3" fill="#c8232b"/>
<rect x="283.5" y="267.1" width="3" height="3" fill="#c8232b"/>
<rect x="313.86" y="266.4" width="3" height="3" fill="#c8232b"/>
<rect x="334.1" y="266.6" width="3" height="3" fill="#c8232b"/>
<polygon points="244.52,193.6 245.14,195.25 246.9,195.33 245.52,196.42 245.99,198.12 244.52,197.15 243.05,198.12 243.52,196.42 242.14,195.33 243.9,195.25" fill="#c8232b"/>

<text x="454.3" y="187.7" class="ti">IL-6</text>
<text transform="translate(362.7 227.5) rotate(-90)" class="yl">pg ml<tspan dy="-3.8" class="sup">−1</tspan></text>
<text transform="translate(453.4 303.5) scale(0.92 1)" class="day">Day</text>
<line x1="398.4" y1="272.8" x2="398.4" y2="220.5" class="ax"/>
<line x1="398.4" y1="214.7" x2="398.4" y2="197.4" class="ax"/>
<line x1="395.8" y1="214.7" x2="400.2" y2="214.7" class="ax"/>
<line x1="395.8" y1="220.5" x2="400.2" y2="220.5" class="ax"/>
<line x1="397.8" y1="272.2" x2="508.9" y2="272.2" class="ax"/>
<line x1="395.8" y1="197.4" x2="398.4" y2="197.4" class="ax"/>
<text transform="translate(392 200) scale(0.9 1)" class="yt">5,000</text>
<line x1="395.8" y1="206.2" x2="398.4" y2="206.2" class="ax"/>
<text transform="translate(392 208.8) scale(0.9 1)" class="yt">3,000</text>
<line x1="395.8" y1="214.7" x2="398.4" y2="214.7" class="ax"/>
<text transform="translate(392 217.3) scale(0.9 1)" class="yt">1,000</text>
<line x1="395.8" y1="220.5" x2="398.4" y2="220.5" class="ax"/>
<text transform="translate(392 223.1) scale(0.9 1)" class="yt">300</text>
<line x1="395.8" y1="237.8" x2="398.4" y2="237.8" class="ax"/>
<text transform="translate(392 240.4) scale(0.9 1)" class="yt">200</text>
<line x1="395.8" y1="255" x2="398.4" y2="255" class="ax"/>
<text transform="translate(392 257.6) scale(0.9 1)" class="yt">100</text>
<line x1="395.8" y1="272.2" x2="398.4" y2="272.2" class="ax"/>
<text transform="translate(392 274.8) scale(0.9 1)" class="yt">0</text>
<line x1="403.2" y1="272.2" x2="403.2" y2="274.4" class="ax"/>
<text transform="translate(408.2 280.3) rotate(-45) scale(0.9 1)" class="xt">0</text>
<line x1="413.28" y1="272.2" x2="413.28" y2="274.4" class="ax"/>
<text transform="translate(419.18 280.9) rotate(-45) scale(0.9 1)" class="xt">0-4 h</text>
<line x1="423.36" y1="272.2" x2="423.36" y2="274.4" class="ax"/>
<text transform="translate(428.36 280.3) rotate(-45) scale(0.9 1)" class="xt">2</text>
<line x1="433.44" y1="272.2" x2="433.44" y2="274.4" class="ax"/>
<text transform="translate(438.44 280.3) rotate(-45) scale(0.9 1)" class="xt">7</text>
<line x1="443.52" y1="272.2" x2="443.52" y2="274.4" class="ax"/>
<text transform="translate(448.52 280.3) rotate(-45) scale(0.9 1)" class="xt">14</text>
<line x1="453.6" y1="272.2" x2="453.6" y2="274.4" class="ax"/>
<text transform="translate(458.6 280.3) rotate(-45) scale(0.9 1)" class="xt">28</text>
<line x1="483.84" y1="272.2" x2="483.84" y2="274.4" class="ax"/>
<text transform="translate(488.84 280.3) rotate(-45) scale(0.9 1)" class="xt">35</text>
<line x1="504" y1="272.2" x2="504" y2="274.4" class="ax"/>
<text transform="translate(509 280.3) rotate(-45) scale(0.9 1)" class="xt">56</text>
<line x1="408.24" y1="197.4" x2="408.24" y2="272.2" class="dl"/>
<line x1="459.14" y1="197.4" x2="459.14" y2="272.2" class="dl"/>
<g>
<polyline points="403.2,269.7 413.28,268.4 423.36,270.5 433.44,271 443.52,267.2 453.6,270.5 483.84,271.3 504,270.8" class="lsc"/>
</g>
<circle cx="403.2" cy="269.7" r="1.6" fill="#2b2d8e"/>
<circle cx="413.28" cy="268.4" r="1.6" fill="#2b2d8e"/>
<circle cx="423.36" cy="270.5" r="1.6" fill="#2b2d8e"/>
<circle cx="433.44" cy="271" r="1.6" fill="#2b2d8e"/>
<circle cx="443.52" cy="267.2" r="1.6" fill="#2b2d8e"/>
<circle cx="453.6" cy="270.5" r="1.6" fill="#2b2d8e"/>
<circle cx="483.84" cy="271.3" r="1.6" fill="#2b2d8e"/>
<circle cx="504" cy="270.8" r="1.6" fill="#2b2d8e"/>
<g>
<polyline points="403.2,270.3 413.28,206.2 423.36,255.9 433.44,269.6 443.52,265.5 453.6,269.1 483.84,268.6 504,266" class="lpm"/>
<line x1="413.28" y1="210.2" x2="413.28" y2="200.2" class="epm"/>
<line x1="411.68" y1="200.2" x2="414.88" y2="200.2" class="epm"/>
<line x1="411.68" y1="210.2" x2="414.88" y2="210.2" class="epm"/>
<line x1="423.36" y1="272.2" x2="423.36" y2="235.4" class="epm"/>
<line x1="421.76" y1="235.4" x2="424.96" y2="235.4" class="epm"/>
<line x1="443.52" y1="267.2" x2="443.52" y2="263.7" class="epm"/>
<line x1="441.92" y1="263.7" x2="445.12" y2="263.7" class="epm"/>
<line x1="441.92" y1="267.2" x2="445.12" y2="267.2" class="epm"/>
</g>
<rect x="401.7" y="268.8" width="3" height="3" fill="#c8232b"/>
<rect x="411.78" y="204.7" width="3" height="3" fill="#c8232b"/>
<rect x="421.86" y="254.4" width="3" height="3" fill="#c8232b"/>
<rect x="431.94" y="268.1" width="3" height="3" fill="#c8232b"/>
<rect x="442.02" y="264" width="3" height="3" fill="#c8232b"/>
<rect x="452.1" y="267.6" width="3" height="3" fill="#c8232b"/>
<rect x="482.34" y="267.1" width="3" height="3" fill="#c8232b"/>
<rect x="502.5" y="264.5" width="3" height="3" fill="#c8232b"/>
<polygon points="413.28,191.2 413.9,192.85 415.66,192.93 414.28,194.02 414.75,195.72 413.28,194.75 411.81,195.72 412.28,194.02 410.9,192.93 412.66,192.85" fill="#c8232b"/>
<polygon points="423.36,225.7 423.98,227.35 425.74,227.43 424.36,228.52 424.83,230.22 423.36,229.25 421.89,230.22 422.36,228.52 420.98,227.43 422.74,227.35" fill="#c8232b"/>

<text x="624.5" y="187.7" class="ti">M-CSF</text>
<text transform="translate(536.5 234.8) rotate(-90)" class="yl">pg ml<tspan dy="-3.8" class="sup">−1</tspan></text>
<text transform="translate(619.4 303.5) scale(0.92 1)" class="day">Day</text>
<line x1="564.4" y1="272.8" x2="564.4" y2="198.2" class="ax"/>
<line x1="563.8" y1="272.2" x2="674.9" y2="272.2" class="ax"/>
<line x1="561.8" y1="198.2" x2="564.4" y2="198.2" class="ax"/>
<text transform="translate(558 200.8) scale(0.9 1)" class="yt">150</text>
<line x1="561.8" y1="222.9" x2="564.4" y2="222.9" class="ax"/>
<text transform="translate(558 225.5) scale(0.9 1)" class="yt">100</text>
<line x1="561.8" y1="247.5" x2="564.4" y2="247.5" class="ax"/>
<text transform="translate(558 250.1) scale(0.9 1)" class="yt">50</text>
<line x1="561.8" y1="272.2" x2="564.4" y2="272.2" class="ax"/>
<text transform="translate(558 274.8) scale(0.9 1)" class="yt">0</text>
<line x1="569" y1="272.2" x2="569" y2="274.4" class="ax"/>
<text transform="translate(574 280.3) rotate(-45) scale(0.9 1)" class="xt">0</text>
<line x1="579.17" y1="272.2" x2="579.17" y2="274.4" class="ax"/>
<text transform="translate(585.07 280.9) rotate(-45) scale(0.9 1)" class="xt">0-4 h</text>
<line x1="589.34" y1="272.2" x2="589.34" y2="274.4" class="ax"/>
<text transform="translate(594.34 280.3) rotate(-45) scale(0.9 1)" class="xt">2</text>
<line x1="599.51" y1="272.2" x2="599.51" y2="274.4" class="ax"/>
<text transform="translate(604.51 280.3) rotate(-45) scale(0.9 1)" class="xt">7</text>
<line x1="609.68" y1="272.2" x2="609.68" y2="274.4" class="ax"/>
<text transform="translate(614.68 280.3) rotate(-45) scale(0.9 1)" class="xt">14</text>
<line x1="619.85" y1="272.2" x2="619.85" y2="274.4" class="ax"/>
<text transform="translate(624.85 280.3) rotate(-45) scale(0.9 1)" class="xt">28</text>
<line x1="650.36" y1="272.2" x2="650.36" y2="274.4" class="ax"/>
<text transform="translate(655.36 280.3) rotate(-45) scale(0.9 1)" class="xt">35</text>
<line x1="670.7" y1="272.2" x2="670.7" y2="274.4" class="ax"/>
<text transform="translate(675.7 280.3) rotate(-45) scale(0.9 1)" class="xt">56</text>
<line x1="574.09" y1="198.2" x2="574.09" y2="272.2" class="dl"/>
<line x1="625.44" y1="198.2" x2="625.44" y2="272.2" class="dl"/>
<g>
<polyline points="569,254.7 579.17,245 589.34,239 599.51,251.8 609.68,255.1 619.85,266 650.36,267.2 670.7,257.6" class="lsc"/>
</g>
<circle cx="569" cy="254.7" r="1.6" fill="#2b2d8e"/>
<circle cx="579.17" cy="245" r="1.6" fill="#2b2d8e"/>
<circle cx="589.34" cy="239" r="1.6" fill="#2b2d8e"/>
<circle cx="599.51" cy="251.8" r="1.6" fill="#2b2d8e"/>
<circle cx="609.68" cy="255.1" r="1.6" fill="#2b2d8e"/>
<circle cx="619.85" cy="266" r="1.6" fill="#2b2d8e"/>
<circle cx="650.36" cy="267.2" r="1.6" fill="#2b2d8e"/>
<circle cx="670.7" cy="257.6" r="1.6" fill="#2b2d8e"/>
<g>
<polyline points="569,256.6 579.17,218.1 589.34,224.6 599.51,244.5 609.68,252.3 619.85,262.4 650.36,260 670.7,255.4" class="lpm"/>
<line x1="569" y1="259.5" x2="569" y2="252.3" class="epm"/>
<line x1="567.4" y1="252.3" x2="570.6" y2="252.3" class="epm"/>
<line x1="567.4" y1="259.5" x2="570.6" y2="259.5" class="epm"/>
<line x1="579.17" y1="225.8" x2="579.17" y2="210.1" class="epm"/>
<line x1="577.57" y1="210.1" x2="580.77" y2="210.1" class="epm"/>
<line x1="577.57" y1="225.8" x2="580.77" y2="225.8" class="epm"/>
<line x1="589.34" y1="231.8" x2="589.34" y2="217.4" class="epm"/>
<line x1="587.74" y1="217.4" x2="590.94" y2="217.4" class="epm"/>
<line x1="587.74" y1="231.8" x2="590.94" y2="231.8" class="epm"/>
<line x1="599.51" y1="247.4" x2="599.51" y2="242.1" class="epm"/>
<line x1="597.91" y1="242.1" x2="601.11" y2="242.1" class="epm"/>
<line x1="597.91" y1="247.4" x2="601.11" y2="247.4" class="epm"/>
<line x1="609.68" y1="255.2" x2="609.68" y2="250.4" class="epm"/>
<line x1="608.08" y1="250.4" x2="611.28" y2="250.4" class="epm"/>
<line x1="608.08" y1="255.2" x2="611.28" y2="255.2" class="epm"/>
<line x1="650.36" y1="261.9" x2="650.36" y2="258.3" class="epm"/>
<line x1="648.76" y1="258.3" x2="651.96" y2="258.3" class="epm"/>
<line x1="648.76" y1="261.9" x2="651.96" y2="261.9" class="epm"/>
<line x1="670.7" y1="260.2" x2="670.7" y2="250.6" class="epm"/>
<line x1="669.1" y1="250.6" x2="672.3" y2="250.6" class="epm"/>
<line x1="669.1" y1="260.2" x2="672.3" y2="260.2" class="epm"/>
</g>
<rect x="567.5" y="255.1" width="3" height="3" fill="#c8232b"/>
<rect x="577.67" y="216.6" width="3" height="3" fill="#c8232b"/>
<rect x="587.84" y="223.1" width="3" height="3" fill="#c8232b"/>
<rect x="598.01" y="243" width="3" height="3" fill="#c8232b"/>
<rect x="608.18" y="250.8" width="3" height="3" fill="#c8232b"/>
<rect x="618.35" y="260.9" width="3" height="3" fill="#c8232b"/>
<rect x="648.86" y="258.5" width="3" height="3" fill="#c8232b"/>
<rect x="669.2" y="253.9" width="3" height="3" fill="#c8232b"/>
<polygon points="579.17,200.1 579.79,201.75 581.55,201.83 580.17,202.92 580.64,204.62 579.17,203.65 577.7,204.62 578.17,202.92 576.79,201.83 578.55,201.75" fill="#c8232b"/>
<polygon points="589.34,206.6 589.96,208.25 591.72,208.33 590.34,209.42 590.81,211.12 589.34,210.15 587.87,211.12 588.34,209.42 586.96,208.33 588.72,208.25" fill="#c8232b"/>

<text x="113.3" y="340.3" class="ti">CXCL9</text>
<text transform="translate(20.9 386.65) rotate(-90)" class="yl">pg ml<tspan dy="-3.8" class="sup">−1</tspan></text>
<text transform="translate(112.5 455.5) scale(0.92 1)" class="day">Day</text>
<line x1="57.5" y1="424.8" x2="57.5" y2="350.7" class="ax"/>
<line x1="56.9" y1="424.2" x2="168" y2="424.2" class="ax"/>
<line x1="54.9" y1="350.7" x2="57.5" y2="350.7" class="ax"/>
<text transform="translate(51.1 353.3) scale(0.9 1)" class="yt">6,000</text>
<line x1="54.9" y1="375.2" x2="57.5" y2="375.2" class="ax"/>
<text transform="translate(51.1 377.8) scale(0.9 1)" class="yt">4,000</text>
<line x1="54.9" y1="399.5" x2="57.5" y2="399.5" class="ax"/>
<text transform="translate(51.1 402.1) scale(0.9 1)" class="yt">2,000</text>
<line x1="54.9" y1="424.2" x2="57.5" y2="424.2" class="ax"/>
<text transform="translate(51.1 426.8) scale(0.9 1)" class="yt">0</text>
<line x1="61.8" y1="424.2" x2="61.8" y2="426.4" class="ax"/>
<text transform="translate(66.8 432.3) rotate(-45) scale(0.9 1)" class="xt">0</text>
<line x1="71.97" y1="424.2" x2="71.97" y2="426.4" class="ax"/>
<text transform="translate(77.87 432.9) rotate(-45) scale(0.9 1)" class="xt">0-4 h</text>
<line x1="82.14" y1="424.2" x2="82.14" y2="426.4" class="ax"/>
<text transform="translate(87.14 432.3) rotate(-45) scale(0.9 1)" class="xt">2</text>
<line x1="92.31" y1="424.2" x2="92.31" y2="426.4" class="ax"/>
<text transform="translate(97.31 432.3) rotate(-45) scale(0.9 1)" class="xt">7</text>
<line x1="102.48" y1="424.2" x2="102.48" y2="426.4" class="ax"/>
<text transform="translate(107.48 432.3) rotate(-45) scale(0.9 1)" class="xt">14</text>
<line x1="112.65" y1="424.2" x2="112.65" y2="426.4" class="ax"/>
<text transform="translate(117.65 432.3) rotate(-45) scale(0.9 1)" class="xt">28</text>
<line x1="143.16" y1="424.2" x2="143.16" y2="426.4" class="ax"/>
<text transform="translate(148.16 432.3) rotate(-45) scale(0.9 1)" class="xt">35</text>
<line x1="163.5" y1="424.2" x2="163.5" y2="426.4" class="ax"/>
<text transform="translate(168.5 432.3) rotate(-45) scale(0.9 1)" class="xt">56</text>
<line x1="66.88" y1="350.7" x2="66.88" y2="424.2" class="dl"/>
<line x1="118.24" y1="350.7" x2="118.24" y2="424.2" class="dl"/>
<g>
<polyline points="61.8,423 71.97,422.2 82.14,423 92.31,423 102.48,421.2 112.65,423.7 143.16,423.9 163.5,420.6" class="lsc"/>
<line x1="163.5" y1="422.2" x2="163.5" y2="418.9" class="esc"/>
<line x1="161.9" y1="418.9" x2="165.1" y2="418.9" class="esc"/>
<line x1="161.9" y1="422.2" x2="165.1" y2="422.2" class="esc"/>
</g>
<circle cx="61.8" cy="423" r="1.6" fill="#2b2d8e"/>
<circle cx="71.97" cy="422.2" r="1.6" fill="#2b2d8e"/>
<circle cx="82.14" cy="423" r="1.6" fill="#2b2d8e"/>
<circle cx="92.31" cy="423" r="1.6" fill="#2b2d8e"/>
<circle cx="102.48" cy="421.2" r="1.6" fill="#2b2d8e"/>
<circle cx="112.65" cy="423.7" r="1.6" fill="#2b2d8e"/>
<circle cx="143.16" cy="423.9" r="1.6" fill="#2b2d8e"/>
<circle cx="163.5" cy="420.6" r="1.6" fill="#2b2d8e"/>
<g>
<polyline points="61.8,422.2 71.97,419.8 82.14,399.5 92.31,422.2 102.48,420.5 112.65,423.7 143.16,419.3 163.5,416.4" class="lpm"/>
<line x1="61.8" y1="423.2" x2="61.8" y2="421.2" class="epm"/>
<line x1="60.2" y1="421.2" x2="63.4" y2="421.2" class="epm"/>
<line x1="60.2" y1="423.2" x2="63.4" y2="423.2" class="epm"/>
<line x1="71.97" y1="421.2" x2="71.97" y2="418.4" class="epm"/>
<line x1="70.37" y1="418.4" x2="73.57" y2="418.4" class="epm"/>
<line x1="70.37" y1="421.2" x2="73.57" y2="421.2" class="epm"/>
<line x1="82.14" y1="424.2" x2="82.14" y2="361.5" class="epm"/>
<line x1="80.54" y1="361.5" x2="83.74" y2="361.5" class="epm"/>
<line x1="102.48" y1="421.7" x2="102.48" y2="419.2" class="epm"/>
<line x1="100.88" y1="419.2" x2="104.08" y2="419.2" class="epm"/>
<line x1="100.88" y1="421.7" x2="104.08" y2="421.7" class="epm"/>
<line x1="143.16" y1="424.2" x2="143.16" y2="412.6" class="epm"/>
<line x1="141.56" y1="412.6" x2="144.76" y2="412.6" class="epm"/>
<line x1="163.5" y1="419.3" x2="163.5" y2="412.8" class="epm"/>
<line x1="161.9" y1="412.8" x2="165.1" y2="412.8" class="epm"/>
<line x1="161.9" y1="419.3" x2="165.1" y2="419.3" class="epm"/>
</g>
<rect x="60.3" y="420.7" width="3" height="3" fill="#c8232b"/>
<rect x="70.47" y="418.3" width="3" height="3" fill="#c8232b"/>
<rect x="80.64" y="398" width="3" height="3" fill="#c8232b"/>
<rect x="90.81" y="420.7" width="3" height="3" fill="#c8232b"/>
<rect x="100.98" y="419" width="3" height="3" fill="#c8232b"/>
<rect x="111.15" y="422.2" width="3" height="3" fill="#c8232b"/>
<rect x="141.66" y="417.8" width="3" height="3" fill="#c8232b"/>
<rect x="162" y="414.9" width="3" height="3" fill="#c8232b"/>
<polygon points="82.14,351 82.76,352.65 84.52,352.73 83.14,353.82 83.61,355.52 82.14,354.55 80.67,355.52 81.14,353.82 79.76,352.73 81.52,352.65" fill="#c8232b"/>

<text x="286.6" y="340.8" class="ti">G-CSF</text>
<text transform="translate(188.6 386) rotate(-90)" class="yl">pg ml<tspan dy="-3.8" class="sup">−1</tspan></text>
<text transform="translate(284.6 455.5) scale(0.92 1)" class="day">Day</text>
<line x1="229.6" y1="424.8" x2="229.6" y2="369.3" class="ax"/>
<line x1="229.6" y1="364.2" x2="229.6" y2="350.7" class="ax"/>
<line x1="227" y1="364.2" x2="231.4" y2="364.2" class="ax"/>
<line x1="227" y1="369.3" x2="231.4" y2="369.3" class="ax"/>
<line x1="229" y1="424.2" x2="340.1" y2="424.2" class="ax"/>
<line x1="227" y1="350.7" x2="229.6" y2="350.7" class="ax"/>
<text transform="translate(223.2 353.3) scale(0.9 1)" class="yt">150,000</text>
<line x1="227" y1="361.5" x2="229.6" y2="361.5" class="ax"/>
<text transform="translate(223.2 364.1) scale(0.9 1)" class="yt">50,000</text>
<line x1="227" y1="369.3" x2="229.6" y2="369.3" class="ax"/>
<text transform="translate(223.2 371.9) scale(0.9 1)" class="yt">3,000</text>
<line x1="227" y1="387.6" x2="229.6" y2="387.6" class="ax"/>
<text transform="translate(223.2 390.2) scale(0.9 1)" class="yt">2,000</text>
<line x1="227" y1="405.9" x2="229.6" y2="405.9" class="ax"/>
<text transform="translate(223.2 408.5) scale(0.9 1)" class="yt">1,000</text>
<line x1="227" y1="424.2" x2="229.6" y2="424.2" class="ax"/>
<text transform="translate(223.2 426.8) scale(0.9 1)" class="yt">0</text>
<line x1="234.7" y1="424.2" x2="234.7" y2="426.4" class="ax"/>
<text transform="translate(239.7 432.3) rotate(-45) scale(0.9 1)" class="xt">0</text>
<line x1="244.82" y1="424.2" x2="244.82" y2="426.4" class="ax"/>
<text transform="translate(250.72 432.9) rotate(-45) scale(0.9 1)" class="xt">0-4 h</text>
<line x1="254.94" y1="424.2" x2="254.94" y2="426.4" class="ax"/>
<text transform="translate(259.94 432.3) rotate(-45) scale(0.9 1)" class="xt">2</text>
<line x1="265.06" y1="424.2" x2="265.06" y2="426.4" class="ax"/>
<text transform="translate(270.06 432.3) rotate(-45) scale(0.9 1)" class="xt">7</text>
<line x1="275.18" y1="424.2" x2="275.18" y2="426.4" class="ax"/>
<text transform="translate(280.18 432.3) rotate(-45) scale(0.9 1)" class="xt">14</text>
<line x1="285.3" y1="424.2" x2="285.3" y2="426.4" class="ax"/>
<text transform="translate(290.3 432.3) rotate(-45) scale(0.9 1)" class="xt">28</text>
<line x1="315.66" y1="424.2" x2="315.66" y2="426.4" class="ax"/>
<text transform="translate(320.66 432.3) rotate(-45) scale(0.9 1)" class="xt">35</text>
<line x1="335.9" y1="424.2" x2="335.9" y2="426.4" class="ax"/>
<text transform="translate(340.9 432.3) rotate(-45) scale(0.9 1)" class="xt">56</text>
<line x1="239.76" y1="350.7" x2="239.76" y2="424.2" class="dl"/>
<line x1="290.87" y1="350.7" x2="290.87" y2="424.2" class="dl"/>
<g>
<polyline points="234.7,423.9 244.82,421.7 254.94,423.7 265.06,423.9 275.18,423.9 285.3,423.9 315.66,423.9 335.9,423.9" class="lsc"/>
</g>
<circle cx="234.7" cy="423.9" r="1.6" fill="#2b2d8e"/>
<circle cx="244.82" cy="421.7" r="1.6" fill="#2b2d8e"/>
<circle cx="254.94" cy="423.7" r="1.6" fill="#2b2d8e"/>
<circle cx="265.06" cy="423.9" r="1.6" fill="#2b2d8e"/>
<circle cx="275.18" cy="423.9" r="1.6" fill="#2b2d8e"/>
<circle cx="285.3" cy="423.9" r="1.6" fill="#2b2d8e"/>
<circle cx="315.66" cy="423.9" r="1.6" fill="#2b2d8e"/>
<circle cx="335.9" cy="423.9" r="1.6" fill="#2b2d8e"/>
<g>
<polyline points="234.7,423.6 241.99,369.3 246.03,369.3 254.94,403.2 265.06,423.7 275.18,423.7 285.3,423.7 315.66,423.7 335.9,423.7" class="lpm"/>
<line x1="244.82" y1="424.2" x2="244.82" y2="369.3" class="epm"/>
<line x1="244.82" y1="363.7" x2="244.82" y2="352.3" class="epm"/>
<line x1="243.22" y1="352.3" x2="246.42" y2="352.3" class="epm"/>
<line x1="254.94" y1="424.2" x2="254.94" y2="375.5" class="epm"/>
<line x1="253.34" y1="375.5" x2="256.54" y2="375.5" class="epm"/>
</g>
<rect x="233.2" y="422.1" width="3" height="3" fill="#c8232b"/>
<rect x="243.32" y="360" width="3" height="3" fill="#c8232b"/>
<rect x="253.44" y="401.7" width="3" height="3" fill="#c8232b"/>
<rect x="263.56" y="422.2" width="3" height="3" fill="#c8232b"/>
<rect x="273.68" y="422.2" width="3" height="3" fill="#c8232b"/>
<rect x="283.8" y="422.2" width="3" height="3" fill="#c8232b"/>
<rect x="314.16" y="422.2" width="3" height="3" fill="#c8232b"/>
<rect x="334.4" y="422.2" width="3" height="3" fill="#c8232b"/>
<polygon points="244.82,342.3 245.44,343.95 247.2,344.03 245.82,345.12 246.29,346.82 244.82,345.85 243.35,346.82 243.82,345.12 242.44,344.03 244.2,343.95" fill="#c8232b"/>
<polygon points="254.94,365.9 255.56,367.55 257.32,367.63 255.94,368.72 256.41,370.42 254.94,369.45 253.47,370.42 253.94,368.72 252.56,367.63 254.32,367.55" fill="#c8232b"/>

<text x="456.5" y="339.8" class="ti">IL-17</text>
<text transform="translate(368.05 383.6) rotate(-90)" class="yl">pg ml<tspan dy="-3.8" class="sup">−1</tspan></text>
<text transform="translate(453.2 455.5) scale(0.92 1)" class="day">Day</text>
<line x1="398.2" y1="424.8" x2="398.2" y2="349.9" class="ax"/>
<line x1="397.6" y1="424.2" x2="508.7" y2="424.2" class="ax"/>
<line x1="395.6" y1="349.9" x2="398.2" y2="349.9" class="ax"/>
<text transform="translate(391.8 352.5) scale(0.9 1)" class="yt">300</text>
<line x1="395.6" y1="374.7" x2="398.2" y2="374.7" class="ax"/>
<text transform="translate(391.8 377.3) scale(0.9 1)" class="yt">200</text>
<line x1="395.6" y1="399.5" x2="398.2" y2="399.5" class="ax"/>
<text transform="translate(391.8 402.1) scale(0.9 1)" class="yt">100</text>
<line x1="395.6" y1="424.2" x2="398.2" y2="424.2" class="ax"/>
<text transform="translate(391.8 426.8) scale(0.9 1)" class="yt">0</text>
<line x1="403" y1="424.2" x2="403" y2="426.4" class="ax"/>
<text transform="translate(408 432.3) rotate(-45) scale(0.9 1)" class="xt">0</text>
<line x1="413.08" y1="424.2" x2="413.08" y2="426.4" class="ax"/>
<text transform="translate(418.98 432.9) rotate(-45) scale(0.9 1)" class="xt">0-4 h</text>
<line x1="423.16" y1="424.2" x2="423.16" y2="426.4" class="ax"/>
<text transform="translate(428.16 432.3) rotate(-45) scale(0.9 1)" class="xt">2</text>
<line x1="433.24" y1="424.2" x2="433.24" y2="426.4" class="ax"/>
<text transform="translate(438.24 432.3) rotate(-45) scale(0.9 1)" class="xt">7</text>
<line x1="443.32" y1="424.2" x2="443.32" y2="426.4" class="ax"/>
<text transform="translate(448.32 432.3) rotate(-45) scale(0.9 1)" class="xt">14</text>
<line x1="453.4" y1="424.2" x2="453.4" y2="426.4" class="ax"/>
<text transform="translate(458.4 432.3) rotate(-45) scale(0.9 1)" class="xt">28</text>
<line x1="483.64" y1="424.2" x2="483.64" y2="426.4" class="ax"/>
<text transform="translate(488.64 432.3) rotate(-45) scale(0.9 1)" class="xt">35</text>
<line x1="503.8" y1="424.2" x2="503.8" y2="426.4" class="ax"/>
<text transform="translate(508.8 432.3) rotate(-45) scale(0.9 1)" class="xt">56</text>
<line x1="408.04" y1="349.9" x2="408.04" y2="424.2" class="dl"/>
<line x1="458.94" y1="349.9" x2="458.94" y2="424.2" class="dl"/>
<g>
<polyline points="403,423.7 413.08,423.4 423.16,423.7 433.24,423.7 443.32,423.7 453.4,423.7 483.64,423.7 503.8,423.7" class="lsc"/>
</g>
<circle cx="403" cy="423.7" r="1.6" fill="#2b2d8e"/>
<circle cx="413.08" cy="423.4" r="1.6" fill="#2b2d8e"/>
<circle cx="423.16" cy="423.7" r="1.6" fill="#2b2d8e"/>
<circle cx="433.24" cy="423.7" r="1.6" fill="#2b2d8e"/>
<circle cx="443.32" cy="423.7" r="1.6" fill="#2b2d8e"/>
<circle cx="453.4" cy="423.7" r="1.6" fill="#2b2d8e"/>
<circle cx="483.64" cy="423.7" r="1.6" fill="#2b2d8e"/>
<circle cx="503.8" cy="423.7" r="1.6" fill="#2b2d8e"/>
<g>
<polyline points="403,423.7 413.08,418.8 423.16,419.8 433.24,421.7 443.32,419.3 453.4,423.9 483.64,385.1 503.8,420.7" class="lpm"/>
<line x1="413.08" y1="420.8" x2="413.08" y2="416.5" class="epm"/>
<line x1="411.48" y1="416.5" x2="414.68" y2="416.5" class="epm"/>
<line x1="411.48" y1="420.8" x2="414.68" y2="420.8" class="epm"/>
<line x1="423.16" y1="423" x2="423.16" y2="415.8" class="epm"/>
<line x1="421.56" y1="415.8" x2="424.76" y2="415.8" class="epm"/>
<line x1="421.56" y1="423" x2="424.76" y2="423" class="epm"/>
<line x1="433.24" y1="424.2" x2="433.24" y2="419.2" class="epm"/>
<line x1="431.64" y1="419.2" x2="434.84" y2="419.2" class="epm"/>
<line x1="431.64" y1="424.2" x2="434.84" y2="424.2" class="epm"/>
<line x1="443.32" y1="421.2" x2="443.32" y2="417.2" class="epm"/>
<line x1="441.72" y1="417.2" x2="444.92" y2="417.2" class="epm"/>
<line x1="441.72" y1="421.2" x2="444.92" y2="421.2" class="epm"/>
<line x1="483.64" y1="415" x2="483.64" y2="354.3" class="epm"/>
<line x1="482.04" y1="354.3" x2="485.24" y2="354.3" class="epm"/>
<line x1="482.04" y1="415" x2="485.24" y2="415" class="epm"/>
</g>
<rect x="401.5" y="422.2" width="3" height="3" fill="#c8232b"/>
<rect x="411.58" y="417.3" width="3" height="3" fill="#c8232b"/>
<rect x="421.66" y="418.3" width="3" height="3" fill="#c8232b"/>
<rect x="431.74" y="420.2" width="3" height="3" fill="#c8232b"/>
<rect x="441.82" y="417.8" width="3" height="3" fill="#c8232b"/>
<rect x="451.9" y="422.4" width="3" height="3" fill="#c8232b"/>
<rect x="482.14" y="383.6" width="3" height="3" fill="#c8232b"/>
<rect x="502.3" y="419.2" width="3" height="3" fill="#c8232b"/>
<polygon points="413.08,406.9 413.7,408.55 415.46,408.63 414.08,409.72 414.55,411.42 413.08,410.45 411.61,411.42 412.08,409.72 410.7,408.63 412.46,408.55" fill="#c8232b"/>
<polygon points="443.32,406.9 443.94,408.55 445.7,408.63 444.32,409.72 444.79,411.42 443.32,410.45 441.85,411.42 442.32,409.72 440.94,408.63 442.7,408.55" fill="#c8232b"/>
<polygon points="483.64,344.2 484.26,345.85 486.02,345.93 484.64,347.02 485.11,348.72 483.64,347.75 482.17,348.72 482.64,347.02 481.26,345.93 483.02,345.85" fill="#c8232b"/>

<text x="623.9" y="340.8" class="ti">LIF</text>
<text transform="translate(536.1 386.65) rotate(-90)" class="yl">pg ml<tspan dy="-3.8" class="sup">−1</tspan></text>
<text transform="translate(619.4 455.5) scale(0.92 1)" class="day">Day</text>
<line x1="564.4" y1="424.8" x2="564.4" y2="351.3" class="ax"/>
<line x1="563.8" y1="424.2" x2="674.9" y2="424.2" class="ax"/>
<line x1="561.8" y1="351.3" x2="564.4" y2="351.3" class="ax"/>
<text transform="translate(558 353.9) scale(0.9 1)" class="yt">150</text>
<line x1="561.8" y1="375.6" x2="564.4" y2="375.6" class="ax"/>
<text transform="translate(558 378.2) scale(0.9 1)" class="yt">100</text>
<line x1="561.8" y1="399.9" x2="564.4" y2="399.9" class="ax"/>
<text transform="translate(558 402.5) scale(0.9 1)" class="yt">50</text>
<line x1="561.8" y1="424.2" x2="564.4" y2="424.2" class="ax"/>
<text transform="translate(558 426.8) scale(0.9 1)" class="yt">0</text>
<line x1="569" y1="424.2" x2="569" y2="426.4" class="ax"/>
<text transform="translate(574 432.3) rotate(-45) scale(0.9 1)" class="xt">0</text>
<line x1="579.17" y1="424.2" x2="579.17" y2="426.4" class="ax"/>
<text transform="translate(585.07 432.9) rotate(-45) scale(0.9 1)" class="xt">0-4 h</text>
<line x1="589.34" y1="424.2" x2="589.34" y2="426.4" class="ax"/>
<text transform="translate(594.34 432.3) rotate(-45) scale(0.9 1)" class="xt">2</text>
<line x1="599.51" y1="424.2" x2="599.51" y2="426.4" class="ax"/>
<text transform="translate(604.51 432.3) rotate(-45) scale(0.9 1)" class="xt">7</text>
<line x1="609.68" y1="424.2" x2="609.68" y2="426.4" class="ax"/>
<text transform="translate(614.68 432.3) rotate(-45) scale(0.9 1)" class="xt">14</text>
<line x1="619.85" y1="424.2" x2="619.85" y2="426.4" class="ax"/>
<text transform="translate(624.85 432.3) rotate(-45) scale(0.9 1)" class="xt">28</text>
<line x1="650.36" y1="424.2" x2="650.36" y2="426.4" class="ax"/>
<text transform="translate(655.36 432.3) rotate(-45) scale(0.9 1)" class="xt">35</text>
<line x1="670.7" y1="424.2" x2="670.7" y2="426.4" class="ax"/>
<text transform="translate(675.7 432.3) rotate(-45) scale(0.9 1)" class="xt">56</text>
<line x1="574.09" y1="351.3" x2="574.09" y2="424.2" class="dl"/>
<line x1="625.44" y1="351.3" x2="625.44" y2="424.2" class="dl"/>
<g>
<polyline points="569,423.7 579.17,423.7 589.34,423.7 599.51,423.7 609.68,423.7 619.85,423.7 650.36,423.7 670.7,423.7" class="lsc"/>
</g>
<circle cx="569" cy="423.7" r="1.6" fill="#2b2d8e"/>
<circle cx="579.17" cy="423.7" r="1.6" fill="#2b2d8e"/>
<circle cx="589.34" cy="423.7" r="1.6" fill="#2b2d8e"/>
<circle cx="599.51" cy="423.7" r="1.6" fill="#2b2d8e"/>
<circle cx="609.68" cy="423.7" r="1.6" fill="#2b2d8e"/>
<circle cx="619.85" cy="423.7" r="1.6" fill="#2b2d8e"/>
<circle cx="650.36" cy="423.7" r="1.6" fill="#2b2d8e"/>
<circle cx="670.7" cy="423.7" r="1.6" fill="#2b2d8e"/>
<g>
<polyline points="569,423.7 579.17,380.3 589.34,414 599.51,423.2 609.68,422.3 619.85,423.2 650.36,419.8 670.7,422.3" class="lpm"/>
<line x1="579.17" y1="389.9" x2="579.17" y2="369.4" class="epm"/>
<line x1="577.57" y1="369.4" x2="580.77" y2="369.4" class="epm"/>
<line x1="577.57" y1="389.9" x2="580.77" y2="389.9" class="epm"/>
<line x1="589.34" y1="424.2" x2="589.34" y2="404.4" class="epm"/>
<line x1="587.74" y1="404.4" x2="590.94" y2="404.4" class="epm"/>
<line x1="650.36" y1="421.8" x2="650.36" y2="418.2" class="epm"/>
<line x1="648.76" y1="418.2" x2="651.96" y2="418.2" class="epm"/>
<line x1="648.76" y1="421.8" x2="651.96" y2="421.8" class="epm"/>
<line x1="670.7" y1="423.2" x2="670.7" y2="421.2" class="epm"/>
<line x1="669.1" y1="421.2" x2="672.3" y2="421.2" class="epm"/>
<line x1="669.1" y1="423.2" x2="672.3" y2="423.2" class="epm"/>
</g>
<rect x="567.5" y="422.2" width="3" height="3" fill="#c8232b"/>
<rect x="577.67" y="378.8" width="3" height="3" fill="#c8232b"/>
<rect x="587.84" y="412.5" width="3" height="3" fill="#c8232b"/>
<rect x="598.01" y="421.7" width="3" height="3" fill="#c8232b"/>
<rect x="608.18" y="420.8" width="3" height="3" fill="#c8232b"/>
<rect x="618.35" y="421.7" width="3" height="3" fill="#c8232b"/>
<rect x="648.86" y="418.3" width="3" height="3" fill="#c8232b"/>
<rect x="669.2" y="420.8" width="3" height="3" fill="#c8232b"/>
<polygon points="579.17,359.2 579.79,360.85 581.55,360.93 580.17,362.02 580.64,363.72 579.17,362.75 577.7,363.72 578.17,362.02 576.79,360.93 578.55,360.85" fill="#c8232b"/>
<polygon points="589.34,394.3 589.96,395.95 591.72,396.03 590.34,397.12 590.81,398.82 589.34,397.85 587.87,398.82 588.34,397.12 586.96,396.03 588.72,395.95" fill="#c8232b"/>

<text x="113.5" y="491.8" class="ti">CXCL10</text>
<text transform="translate(20.7 535.3) rotate(-90)" class="yl">pg ml<tspan dy="-3.8" class="sup">−1</tspan></text>
<text transform="translate(112.5 607.5) scale(0.92 1)" class="day">Day</text>
<line x1="57.5" y1="576.8" x2="57.5" y2="502.5" class="ax"/>
<line x1="56.9" y1="576.2" x2="168" y2="576.2" class="ax"/>
<line x1="54.9" y1="502.5" x2="57.5" y2="502.5" class="ax"/>
<text transform="translate(51.1 505.1) scale(0.9 1)" class="yt">1,500</text>
<line x1="54.9" y1="527" x2="57.5" y2="527" class="ax"/>
<text transform="translate(51.1 529.6) scale(0.9 1)" class="yt">1,000</text>
<line x1="54.9" y1="551.6" x2="57.5" y2="551.6" class="ax"/>
<text transform="translate(51.1 554.2) scale(0.9 1)" class="yt">500</text>
<line x1="54.9" y1="576.2" x2="57.5" y2="576.2" class="ax"/>
<text transform="translate(51.1 578.8) scale(0.9 1)" class="yt">0</text>
<line x1="61.8" y1="576.2" x2="61.8" y2="578.4" class="ax"/>
<text transform="translate(66.8 584.3) rotate(-45) scale(0.9 1)" class="xt">0</text>
<line x1="71.97" y1="576.2" x2="71.97" y2="578.4" class="ax"/>
<text transform="translate(77.87 584.9) rotate(-45) scale(0.9 1)" class="xt">0-4 h</text>
<line x1="82.14" y1="576.2" x2="82.14" y2="578.4" class="ax"/>
<text transform="translate(87.14 584.3) rotate(-45) scale(0.9 1)" class="xt">2</text>
<line x1="92.31" y1="576.2" x2="92.31" y2="578.4" class="ax"/>
<text transform="translate(97.31 584.3) rotate(-45) scale(0.9 1)" class="xt">7</text>
<line x1="102.48" y1="576.2" x2="102.48" y2="578.4" class="ax"/>
<text transform="translate(107.48 584.3) rotate(-45) scale(0.9 1)" class="xt">14</text>
<line x1="112.65" y1="576.2" x2="112.65" y2="578.4" class="ax"/>
<text transform="translate(117.65 584.3) rotate(-45) scale(0.9 1)" class="xt">28</text>
<line x1="143.16" y1="576.2" x2="143.16" y2="578.4" class="ax"/>
<text transform="translate(148.16 584.3) rotate(-45) scale(0.9 1)" class="xt">35</text>
<line x1="163.5" y1="576.2" x2="163.5" y2="578.4" class="ax"/>
<text transform="translate(168.5 584.3) rotate(-45) scale(0.9 1)" class="xt">56</text>
<line x1="66.88" y1="502.5" x2="66.88" y2="576.2" class="dl"/>
<line x1="118.24" y1="502.5" x2="118.24" y2="576.2" class="dl"/>
<g>
<polyline points="61.8,574.7 71.97,568 82.14,574.7 92.31,575.2 102.48,575.2 112.65,575.2 143.16,575.2 163.5,575.2" class="lsc"/>
</g>
<circle cx="61.8" cy="574.7" r="1.6" fill="#2b2d8e"/>
<circle cx="71.97" cy="568" r="1.6" fill="#2b2d8e"/>
<circle cx="82.14" cy="574.7" r="1.6" fill="#2b2d8e"/>
<circle cx="92.31" cy="575.2" r="1.6" fill="#2b2d8e"/>
<circle cx="102.48" cy="575.2" r="1.6" fill="#2b2d8e"/>
<circle cx="112.65" cy="575.2" r="1.6" fill="#2b2d8e"/>
<circle cx="143.16" cy="575.2" r="1.6" fill="#2b2d8e"/>
<circle cx="163.5" cy="575.2" r="1.6" fill="#2b2d8e"/>
<g>
<polyline points="61.8,574.7 71.97,537.4 82.14,549.4 92.31,574.2 102.48,572.8 112.65,574.2 143.16,571.1 163.5,572.3" class="lpm"/>
<line x1="71.97" y1="545.3" x2="71.97" y2="529.4" class="epm"/>
<line x1="70.37" y1="529.4" x2="73.57" y2="529.4" class="epm"/>
<line x1="70.37" y1="545.3" x2="73.57" y2="545.3" class="epm"/>
<line x1="82.14" y1="576.2" x2="82.14" y2="524.1" class="epm"/>
<line x1="80.54" y1="524.1" x2="83.74" y2="524.1" class="epm"/>
<line x1="102.48" y1="574.2" x2="102.48" y2="571.2" class="epm"/>
<line x1="100.88" y1="571.2" x2="104.08" y2="571.2" class="epm"/>
<line x1="100.88" y1="574.2" x2="104.08" y2="574.2" class="epm"/>
<line x1="143.16" y1="574.2" x2="143.16" y2="566.3" class="epm"/>
<line x1="141.56" y1="566.3" x2="144.76" y2="566.3" class="epm"/>
<line x1="141.56" y1="574.2" x2="144.76" y2="574.2" class="epm"/>
<line x1="163.5" y1="573.7" x2="163.5" y2="570.7" class="epm"/>
<line x1="161.9" y1="570.7" x2="165.1" y2="570.7" class="epm"/>
<line x1="161.9" y1="573.7" x2="165.1" y2="573.7" class="epm"/>
</g>
<rect x="60.3" y="573.2" width="3" height="3" fill="#c8232b"/>
<rect x="70.47" y="535.9" width="3" height="3" fill="#c8232b"/>
<rect x="80.64" y="547.9" width="3" height="3" fill="#c8232b"/>
<rect x="90.81" y="572.7" width="3" height="3" fill="#c8232b"/>
<rect x="100.98" y="571.3" width="3" height="3" fill="#c8232b"/>
<rect x="111.15" y="572.7" width="3" height="3" fill="#c8232b"/>
<rect x="141.66" y="569.6" width="3" height="3" fill="#c8232b"/>
<rect x="162" y="570.8" width="3" height="3" fill="#c8232b"/>
<polygon points="71.97,518.9 72.59,520.55 74.35,520.63 72.97,521.72 73.44,523.42 71.97,522.45 70.5,523.42 70.97,521.72 69.59,520.63 71.35,520.55" fill="#c8232b"/>
<polygon points="82.14,514.1 82.76,515.75 84.52,515.83 83.14,516.92 83.61,518.62 82.14,517.65 80.67,518.62 81.14,516.92 79.76,515.83 81.52,515.75" fill="#c8232b"/>

<text x="287.9" y="492.2" class="ti">GM-CSF</text>
<text transform="translate(201.2 532.65) rotate(-90)" class="yl">pg ml<tspan dy="-3.8" class="sup">−1</tspan></text>
<text transform="translate(284.7 607.5) scale(0.92 1)" class="day">Day</text>
<line x1="229.7" y1="576.8" x2="229.7" y2="502.2" class="ax"/>
<line x1="229.1" y1="576.2" x2="340.2" y2="576.2" class="ax"/>
<line x1="227.1" y1="502.2" x2="229.7" y2="502.2" class="ax"/>
<text transform="translate(223.3 504.8) scale(0.9 1)" class="yt">250</text>
<line x1="227.1" y1="516.9" x2="229.7" y2="516.9" class="ax"/>
<text transform="translate(223.3 519.5) scale(0.9 1)" class="yt">200</text>
<line x1="227.1" y1="531.8" x2="229.7" y2="531.8" class="ax"/>
<text transform="translate(223.3 534.4) scale(0.9 1)" class="yt">150</text>
<line x1="227.1" y1="546.5" x2="229.7" y2="546.5" class="ax"/>
<text transform="translate(223.3 549.1) scale(0.9 1)" class="yt">100</text>
<line x1="227.1" y1="561.2" x2="229.7" y2="561.2" class="ax"/>
<text transform="translate(223.3 563.8) scale(0.9 1)" class="yt">50</text>
<line x1="227.1" y1="576.2" x2="229.7" y2="576.2" class="ax"/>
<text transform="translate(223.3 578.8) scale(0.9 1)" class="yt">0</text>
<line x1="234.8" y1="576.2" x2="234.8" y2="578.4" class="ax"/>
<text transform="translate(239.8 584.3) rotate(-45) scale(0.9 1)" class="xt">0</text>
<line x1="244.92" y1="576.2" x2="244.92" y2="578.4" class="ax"/>
<text transform="translate(250.82 584.9) rotate(-45) scale(0.9 1)" class="xt">0-4 h</text>
<line x1="255.04" y1="576.2" x2="255.04" y2="578.4" class="ax"/>
<text transform="translate(260.04 584.3) rotate(-45) scale(0.9 1)" class="xt">2</text>
<line x1="265.16" y1="576.2" x2="265.16" y2="578.4" class="ax"/>
<text transform="translate(270.16 584.3) rotate(-45) scale(0.9 1)" class="xt">7</text>
<line x1="275.28" y1="576.2" x2="275.28" y2="578.4" class="ax"/>
<text transform="translate(280.28 584.3) rotate(-45) scale(0.9 1)" class="xt">14</text>
<line x1="285.4" y1="576.2" x2="285.4" y2="578.4" class="ax"/>
<text transform="translate(290.4 584.3) rotate(-45) scale(0.9 1)" class="xt">28</text>
<line x1="315.76" y1="576.2" x2="315.76" y2="578.4" class="ax"/>
<text transform="translate(320.76 584.3) rotate(-45) scale(0.9 1)" class="xt">35</text>
<line x1="336" y1="576.2" x2="336" y2="578.4" class="ax"/>
<text transform="translate(341 584.3) rotate(-45) scale(0.9 1)" class="xt">56</text>
<line x1="239.86" y1="502.2" x2="239.86" y2="576.2" class="dl"/>
<line x1="290.97" y1="502.2" x2="290.97" y2="576.2" class="dl"/>
<g>
<polyline points="234.8,572.3 244.92,568.7 255.04,562.7 265.16,575.2 275.28,568 285.4,575.2 315.76,575.4 336,572.8" class="lsc"/>
<line x1="336" y1="576.2" x2="336" y2="568.7" class="esc"/>
<line x1="334.4" y1="568.7" x2="337.6" y2="568.7" class="esc"/>
<line x1="334.4" y1="576.2" x2="337.6" y2="576.2" class="esc"/>
</g>
<circle cx="234.8" cy="572.3" r="1.6" fill="#2b2d8e"/>
<circle cx="244.92" cy="568.7" r="1.6" fill="#2b2d8e"/>
<circle cx="255.04" cy="562.7" r="1.6" fill="#2b2d8e"/>
<circle cx="265.16" cy="575.2" r="1.6" fill="#2b2d8e"/>
<circle cx="275.28" cy="568" r="1.6" fill="#2b2d8e"/>
<circle cx="285.4" cy="575.2" r="1.6" fill="#2b2d8e"/>
<circle cx="315.76" cy="575.4" r="1.6" fill="#2b2d8e"/>
<circle cx="336" cy="572.8" r="1.6" fill="#2b2d8e"/>
<g>
<polyline points="234.8,571.1 244.92,532.6 255.04,555.9 265.16,560.3 275.28,555.9 285.4,561.5 315.76,555 336,557.4" class="lpm"/>
<line x1="234.8" y1="574.7" x2="234.8" y2="565.6" class="epm"/>
<line x1="233.2" y1="565.6" x2="236.4" y2="565.6" class="epm"/>
<line x1="233.2" y1="574.7" x2="236.4" y2="574.7" class="epm"/>
<line x1="244.92" y1="543.4" x2="244.92" y2="517.4" class="epm"/>
<line x1="243.32" y1="517.4" x2="246.52" y2="517.4" class="epm"/>
<line x1="243.32" y1="543.4" x2="246.52" y2="543.4" class="epm"/>
<line x1="255.04" y1="558.4" x2="255.04" y2="553" class="epm"/>
<line x1="253.44" y1="553" x2="256.64" y2="553" class="epm"/>
<line x1="253.44" y1="558.4" x2="256.64" y2="558.4" class="epm"/>
<line x1="265.16" y1="568.7" x2="265.16" y2="552.5" class="epm"/>
<line x1="263.56" y1="552.5" x2="266.76" y2="552.5" class="epm"/>
<line x1="263.56" y1="568.7" x2="266.76" y2="568.7" class="epm"/>
<line x1="275.28" y1="558.7" x2="275.28" y2="552.7" class="epm"/>
<line x1="273.68" y1="552.7" x2="276.88" y2="552.7" class="epm"/>
<line x1="273.68" y1="558.7" x2="276.88" y2="558.7" class="epm"/>
<line x1="285.4" y1="571.1" x2="285.4" y2="551.8" class="epm"/>
<line x1="283.8" y1="551.8" x2="287" y2="551.8" class="epm"/>
<line x1="283.8" y1="571.1" x2="287" y2="571.1" class="epm"/>
<line x1="315.76" y1="558.4" x2="315.76" y2="551.8" class="epm"/>
<line x1="314.16" y1="551.8" x2="317.36" y2="551.8" class="epm"/>
<line x1="314.16" y1="558.4" x2="317.36" y2="558.4" class="epm"/>
<line x1="336" y1="560.3" x2="336" y2="554.3" class="epm"/>
<line x1="334.4" y1="554.3" x2="337.6" y2="554.3" class="epm"/>
<line x1="334.4" y1="560.3" x2="337.6" y2="560.3" class="epm"/>
</g>
<rect x="233.3" y="569.6" width="3" height="3" fill="#c8232b"/>
<rect x="243.42" y="531.1" width="3" height="3" fill="#c8232b"/>
<rect x="253.54" y="554.4" width="3" height="3" fill="#c8232b"/>
<rect x="263.66" y="558.8" width="3" height="3" fill="#c8232b"/>
<rect x="273.78" y="554.4" width="3" height="3" fill="#c8232b"/>
<rect x="283.9" y="560" width="3" height="3" fill="#c8232b"/>
<rect x="314.26" y="553.5" width="3" height="3" fill="#c8232b"/>
<rect x="334.5" y="555.9" width="3" height="3" fill="#c8232b"/>
<polygon points="244.92,508.1 245.54,509.75 247.3,509.83 245.92,510.92 246.39,512.62 244.92,511.65 243.45,512.62 243.92,510.92 242.54,509.83 244.3,509.75" fill="#c8232b"/>
<polygon points="255.04,543.5 255.66,545.15 257.42,545.23 256.04,546.32 256.51,548.02 255.04,547.05 253.57,548.02 254.04,546.32 252.66,545.23 254.42,545.15" fill="#c8232b"/>
<polygon points="275.28,543.5 275.9,545.15 277.66,545.23 276.28,546.32 276.75,548.02 275.28,547.05 273.81,548.02 274.28,546.32 272.9,545.23 274.66,545.15" fill="#c8232b"/>
<polygon points="315.76,541.8 316.38,543.45 318.14,543.53 316.76,544.62 317.23,546.32 315.76,545.35 314.29,546.32 314.76,544.62 313.38,543.53 315.14,543.45" fill="#c8232b"/>
<polygon points="336,544.9 336.62,546.55 338.38,546.63 337,547.72 337.47,549.42 336,548.45 334.53,549.42 335,547.72 333.62,546.63 335.38,546.55" fill="#c8232b"/>

<text x="456" y="491.8" class="ti">TNF<tspan class="gk">α</tspan></text>
<text transform="translate(362.1 533) rotate(-90)" class="yl">pg ml<tspan dy="-3.8" class="sup">−1</tspan></text>
<text transform="translate(452.8 607.5) scale(0.92 1)" class="day">Day</text>
<line x1="397.8" y1="576.8" x2="397.8" y2="524.7" class="ax"/>
<line x1="397.8" y1="518.7" x2="397.8" y2="501.7" class="ax"/>
<line x1="395.2" y1="518.7" x2="399.6" y2="518.7" class="ax"/>
<line x1="395.2" y1="524.7" x2="399.6" y2="524.7" class="ax"/>
<line x1="397.2" y1="576.2" x2="508.3" y2="576.2" class="ax"/>
<line x1="395.2" y1="501.7" x2="397.8" y2="501.7" class="ax"/>
<text transform="translate(391.4 504.3) scale(0.9 1)" class="yt">8,000</text>
<line x1="395.2" y1="516.4" x2="397.8" y2="516.4" class="ax"/>
<text transform="translate(391.4 519) scale(0.9 1)" class="yt">2,000</text>
<line x1="395.2" y1="524.7" x2="397.8" y2="524.7" class="ax"/>
<text transform="translate(391.4 527.3) scale(0.9 1)" class="yt">1,000</text>
<line x1="395.2" y1="535" x2="397.8" y2="535" class="ax"/>
<text transform="translate(391.4 537.6) scale(0.9 1)" class="yt">800</text>
<line x1="395.2" y1="545.3" x2="397.8" y2="545.3" class="ax"/>
<text transform="translate(391.4 547.9) scale(0.9 1)" class="yt">600</text>
<line x1="395.2" y1="555.6" x2="397.8" y2="555.6" class="ax"/>
<text transform="translate(391.4 558.2) scale(0.9 1)" class="yt">400</text>
<line x1="395.2" y1="565.9" x2="397.8" y2="565.9" class="ax"/>
<text transform="translate(391.4 568.5) scale(0.9 1)" class="yt">200</text>
<line x1="395.2" y1="576.2" x2="397.8" y2="576.2" class="ax"/>
<text transform="translate(391.4 578.8) scale(0.9 1)" class="yt">0</text>
<line x1="402.6" y1="576.2" x2="402.6" y2="578.4" class="ax"/>
<text transform="translate(407.6 584.3) rotate(-45) scale(0.9 1)" class="xt">0</text>
<line x1="412.68" y1="576.2" x2="412.68" y2="578.4" class="ax"/>
<text transform="translate(418.58 584.9) rotate(-45) scale(0.9 1)" class="xt">0-4 h</text>
<line x1="422.76" y1="576.2" x2="422.76" y2="578.4" class="ax"/>
<text transform="translate(427.76 584.3) rotate(-45) scale(0.9 1)" class="xt">2</text>
<line x1="432.84" y1="576.2" x2="432.84" y2="578.4" class="ax"/>
<text transform="translate(437.84 584.3) rotate(-45) scale(0.9 1)" class="xt">7</text>
<line x1="442.92" y1="576.2" x2="442.92" y2="578.4" class="ax"/>
<text transform="translate(447.92 584.3) rotate(-45) scale(0.9 1)" class="xt">14</text>
<line x1="453" y1="576.2" x2="453" y2="578.4" class="ax"/>
<text transform="translate(458 584.3) rotate(-45) scale(0.9 1)" class="xt">28</text>
<line x1="483.24" y1="576.2" x2="483.24" y2="578.4" class="ax"/>
<text transform="translate(488.24 584.3) rotate(-45) scale(0.9 1)" class="xt">35</text>
<line x1="503.4" y1="576.2" x2="503.4" y2="578.4" class="ax"/>
<text transform="translate(508.4 584.3) rotate(-45) scale(0.9 1)" class="xt">56</text>
<line x1="407.64" y1="501.7" x2="407.64" y2="576.2" class="dl"/>
<line x1="458.54" y1="501.7" x2="458.54" y2="576.2" class="dl"/>
<clipPath id="c4"><rect x="392.8" y="466.2" width="125" height="52.5"/><rect x="392.8" y="524.7" width="125" height="61.5"/></clipPath>
<g clip-path="url(#c4)">
<polyline points="402.6,575.7 412.68,575.2 422.76,575.7 432.84,575.7 442.92,575.7 453,575.7 483.24,575.7 503.4,575.7" class="lsc"/>
</g>
<circle cx="402.6" cy="575.7" r="1.6" fill="#2b2d8e"/>
<circle cx="412.68" cy="575.2" r="1.6" fill="#2b2d8e"/>
<circle cx="422.76" cy="575.7" r="1.6" fill="#2b2d8e"/>
<circle cx="432.84" cy="575.7" r="1.6" fill="#2b2d8e"/>
<circle cx="442.92" cy="575.7" r="1.6" fill="#2b2d8e"/>
<circle cx="453" cy="575.7" r="1.6" fill="#2b2d8e"/>
<circle cx="483.24" cy="575.7" r="1.6" fill="#2b2d8e"/>
<circle cx="503.4" cy="575.7" r="1.6" fill="#2b2d8e"/>
<g clip-path="url(#c4)">
<polyline points="402.6,575.7 412.68,510.9 422.76,571.1 432.84,575.7 442.92,575.7 453,575.7 483.24,575.7 503.4,575.7" class="lpm"/>
<line x1="412.68" y1="514" x2="412.68" y2="505.3" class="epm"/>
<line x1="411.08" y1="505.3" x2="414.28" y2="505.3" class="epm"/>
<line x1="411.08" y1="514" x2="414.28" y2="514" class="epm"/>
<line x1="422.76" y1="576.2" x2="422.76" y2="565.6" class="epm"/>
<line x1="421.16" y1="565.6" x2="424.36" y2="565.6" class="epm"/>
</g>
<rect x="401.1" y="574.2" width="3" height="3" fill="#c8232b"/>
<rect x="411.18" y="509.4" width="3" height="3" fill="#c8232b"/>
<rect x="421.26" y="569.6" width="3" height="3" fill="#c8232b"/>
<rect x="431.34" y="574.2" width="3" height="3" fill="#c8232b"/>
<rect x="441.42" y="574.2" width="3" height="3" fill="#c8232b"/>
<rect x="451.5" y="574.2" width="3" height="3" fill="#c8232b"/>
<rect x="481.74" y="574.2" width="3" height="3" fill="#c8232b"/>
<rect x="501.9" y="574.2" width="3" height="3" fill="#c8232b"/>
<polygon points="412.68,496 413.3,497.65 415.06,497.73 413.68,498.82 414.15,500.52 412.68,499.55 411.21,500.52 411.68,498.82 410.3,497.73 412.06,497.65" fill="#c8232b"/>
<polygon points="422.76,559.9 423.38,561.55 425.14,561.63 423.76,562.72 424.23,564.42 422.76,563.45 421.29,564.42 421.76,562.72 420.38,561.63 422.14,561.55" fill="#c8232b"/>

<text x="622.6" y="491.8" class="ti">IL-1<tspan class="gk">α</tspan></text>
<text transform="translate(527.1 534.15) rotate(-90)" class="yl">pg ml<tspan dy="-3.8" class="sup">−1</tspan></text>
<text transform="translate(619.9 607.5) scale(0.92 1)" class="day">Day</text>
<line x1="564.9" y1="576.8" x2="564.9" y2="502" class="ax"/>
<line x1="564.3" y1="576.2" x2="675.4" y2="576.2" class="ax"/>
<line x1="562.3" y1="502" x2="564.9" y2="502" class="ax"/>
<text transform="translate(558.5 504.6) scale(0.9 1)" class="yt">20,000</text>
<line x1="562.3" y1="520.6" x2="564.9" y2="520.6" class="ax"/>
<text transform="translate(558.5 523.2) scale(0.9 1)" class="yt">15,000</text>
<line x1="562.3" y1="539.1" x2="564.9" y2="539.1" class="ax"/>
<text transform="translate(558.5 541.7) scale(0.9 1)" class="yt">10,000</text>
<line x1="562.3" y1="557.7" x2="564.9" y2="557.7" class="ax"/>
<text transform="translate(558.5 560.3) scale(0.9 1)" class="yt">5,000</text>
<line x1="562.3" y1="576.2" x2="564.9" y2="576.2" class="ax"/>
<text transform="translate(558.5 578.8) scale(0.9 1)" class="yt">0</text>
<line x1="569.5" y1="576.2" x2="569.5" y2="578.4" class="ax"/>
<text transform="translate(574.5 584.3) rotate(-45) scale(0.9 1)" class="xt">0</text>
<line x1="579.67" y1="576.2" x2="579.67" y2="578.4" class="ax"/>
<text transform="translate(585.57 584.9) rotate(-45) scale(0.9 1)" class="xt">0-4 h</text>
<line x1="589.84" y1="576.2" x2="589.84" y2="578.4" class="ax"/>
<text transform="translate(594.84 584.3) rotate(-45) scale(0.9 1)" class="xt">2</text>
<line x1="600.01" y1="576.2" x2="600.01" y2="578.4" class="ax"/>
<text transform="translate(605.01 584.3) rotate(-45) scale(0.9 1)" class="xt">7</text>
<line x1="610.18" y1="576.2" x2="610.18" y2="578.4" class="ax"/>
<text transform="translate(615.18 584.3) rotate(-45) scale(0.9 1)" class="xt">14</text>
<line x1="620.35" y1="576.2" x2="620.35" y2="578.4" class="ax"/>
<text transform="translate(625.35 584.3) rotate(-45) scale(0.9 1)" class="xt">28</text>
<line x1="650.86" y1="576.2" x2="650.86" y2="578.4" class="ax"/>
<text transform="translate(655.86 584.3) rotate(-45) scale(0.9 1)" class="xt">35</text>
<line x1="671.2" y1="576.2" x2="671.2" y2="578.4" class="ax"/>
<text transform="translate(676.2 584.3) rotate(-45) scale(0.9 1)" class="xt">56</text>
<line x1="574.59" y1="502" x2="574.59" y2="576.2" class="dl"/>
<line x1="625.94" y1="502" x2="625.94" y2="576.2" class="dl"/>
<g>
<polyline points="569.5,574.2 579.67,570.6 589.84,573.8 600.01,575 610.18,574 620.35,575.5 650.86,575.5 671.2,575.5" class="lsc"/>
</g>
<circle cx="569.5" cy="574.2" r="1.6" fill="#2b2d8e"/>
<circle cx="579.67" cy="570.6" r="1.6" fill="#2b2d8e"/>
<circle cx="589.84" cy="573.8" r="1.6" fill="#2b2d8e"/>
<circle cx="600.01" cy="575" r="1.6" fill="#2b2d8e"/>
<circle cx="610.18" cy="574" r="1.6" fill="#2b2d8e"/>
<circle cx="620.35" cy="575.5" r="1.6" fill="#2b2d8e"/>
<circle cx="650.86" cy="575.5" r="1.6" fill="#2b2d8e"/>
<circle cx="671.2" cy="575.5" r="1.6" fill="#2b2d8e"/>
<g>
<polyline points="569.5,573.5 579.67,535 589.84,572.8 600.01,574.5 610.18,572.8 620.35,575 650.86,575 671.2,574.5" class="lpm"/>
<line x1="569.5" y1="574.7" x2="569.5" y2="572.2" class="epm"/>
<line x1="567.9" y1="572.2" x2="571.1" y2="572.2" class="epm"/>
<line x1="567.9" y1="574.7" x2="571.1" y2="574.7" class="epm"/>
<line x1="579.67" y1="553.5" x2="579.67" y2="516.4" class="epm"/>
<line x1="578.07" y1="516.4" x2="581.27" y2="516.4" class="epm"/>
<line x1="578.07" y1="553.5" x2="581.27" y2="553.5" class="epm"/>
<line x1="589.84" y1="572.8" x2="589.84" y2="569.4" class="epm"/>
<line x1="588.24" y1="569.4" x2="591.44" y2="569.4" class="epm"/>
<line x1="610.18" y1="575.7" x2="610.18" y2="568.7" class="epm"/>
<line x1="608.58" y1="568.7" x2="611.78" y2="568.7" class="epm"/>
<line x1="608.58" y1="575.7" x2="611.78" y2="575.7" class="epm"/>
</g>
<rect x="568" y="572" width="3" height="3" fill="#c8232b"/>
<rect x="578.17" y="533.5" width="3" height="3" fill="#c8232b"/>
<rect x="588.34" y="571.3" width="3" height="3" fill="#c8232b"/>
<rect x="598.51" y="573" width="3" height="3" fill="#c8232b"/>
<rect x="608.68" y="571.3" width="3" height="3" fill="#c8232b"/>
<rect x="618.85" y="573.5" width="3" height="3" fill="#c8232b"/>
<rect x="649.36" y="573.5" width="3" height="3" fill="#c8232b"/>
<rect x="669.7" y="573" width="3" height="3" fill="#c8232b"/>
<polygon points="579.67,506.4 580.29,508.05 582.05,508.13 580.67,509.22 581.14,510.92 579.67,509.95 578.2,510.92 578.67,509.22 577.29,508.13 579.05,508.05" fill="#c8232b"/>

<text x="112.9" y="647.3" class="ti">IL-12p70</text>
<text transform="translate(31 693) rotate(-90)" class="yl">pg ml<tspan dy="-3.8" class="sup">−1</tspan></text>
<text transform="translate(112.5 763.1) scale(0.92 1)" class="day">Day</text>
<line x1="57.5" y1="732.4" x2="57.5" y2="658.8" class="ax"/>
<line x1="56.9" y1="731.8" x2="168" y2="731.8" class="ax"/>
<line x1="54.9" y1="658.8" x2="57.5" y2="658.8" class="ax"/>
<text transform="translate(51.1 661.4) scale(0.9 1)" class="yt">60</text>
<line x1="54.9" y1="683.1" x2="57.5" y2="683.1" class="ax"/>
<text transform="translate(51.1 685.7) scale(0.9 1)" class="yt">40</text>
<line x1="54.9" y1="707.5" x2="57.5" y2="707.5" class="ax"/>
<text transform="translate(51.1 710.1) scale(0.9 1)" class="yt">20</text>
<line x1="54.9" y1="731.8" x2="57.5" y2="731.8" class="ax"/>
<text transform="translate(51.1 734.4) scale(0.9 1)" class="yt">0</text>
<line x1="61.8" y1="731.8" x2="61.8" y2="734" class="ax"/>
<text transform="translate(66.8 739.9) rotate(-45) scale(0.9 1)" class="xt">0</text>
<line x1="71.97" y1="731.8" x2="71.97" y2="734" class="ax"/>
<text transform="translate(77.87 740.5) rotate(-45) scale(0.9 1)" class="xt">0-4 h</text>
<line x1="82.14" y1="731.8" x2="82.14" y2="734" class="ax"/>
<text transform="translate(87.14 739.9) rotate(-45) scale(0.9 1)" class="xt">2</text>
<line x1="92.31" y1="731.8" x2="92.31" y2="734" class="ax"/>
<text transform="translate(97.31 739.9) rotate(-45) scale(0.9 1)" class="xt">7</text>
<line x1="102.48" y1="731.8" x2="102.48" y2="734" class="ax"/>
<text transform="translate(107.48 739.9) rotate(-45) scale(0.9 1)" class="xt">14</text>
<line x1="112.65" y1="731.8" x2="112.65" y2="734" class="ax"/>
<text transform="translate(117.65 739.9) rotate(-45) scale(0.9 1)" class="xt">28</text>
<line x1="143.16" y1="731.8" x2="143.16" y2="734" class="ax"/>
<text transform="translate(148.16 739.9) rotate(-45) scale(0.9 1)" class="xt">35</text>
<line x1="163.5" y1="731.8" x2="163.5" y2="734" class="ax"/>
<text transform="translate(168.5 739.9) rotate(-45) scale(0.9 1)" class="xt">56</text>
<line x1="66.88" y1="658.8" x2="66.88" y2="731.8" class="dl"/>
<line x1="118.24" y1="658.8" x2="118.24" y2="731.8" class="dl"/>
<g>
<polyline points="61.8,731.8 71.97,731.8 82.14,731.8 92.31,731.8 102.48,731.8 112.65,731.8 143.16,731.8 163.5,731.8" class="lsc"/>
</g>
<circle cx="61.8" cy="731.8" r="1.6" fill="#2b2d8e"/>
<circle cx="71.97" cy="731.8" r="1.6" fill="#2b2d8e"/>
<circle cx="82.14" cy="731.8" r="1.6" fill="#2b2d8e"/>
<circle cx="92.31" cy="731.8" r="1.6" fill="#2b2d8e"/>
<circle cx="102.48" cy="731.8" r="1.6" fill="#2b2d8e"/>
<circle cx="112.65" cy="731.8" r="1.6" fill="#2b2d8e"/>
<circle cx="143.16" cy="731.8" r="1.6" fill="#2b2d8e"/>
<circle cx="163.5" cy="731.8" r="1.6" fill="#2b2d8e"/>
<g>
<polyline points="61.8,731.8 71.97,684.1 82.14,703.4 92.31,723.9 102.48,709.4 112.65,722.7 143.16,715.9 163.5,718.3" class="lpm"/>
<line x1="71.97" y1="691.4" x2="71.97" y2="675.7" class="epm"/>
<line x1="70.37" y1="675.7" x2="73.57" y2="675.7" class="epm"/>
<line x1="70.37" y1="691.4" x2="73.57" y2="691.4" class="epm"/>
<line x1="82.14" y1="709.4" x2="82.14" y2="697.4" class="epm"/>
<line x1="80.54" y1="697.4" x2="83.74" y2="697.4" class="epm"/>
<line x1="80.54" y1="709.4" x2="83.74" y2="709.4" class="epm"/>
<line x1="92.31" y1="728.7" x2="92.31" y2="719" class="epm"/>
<line x1="90.71" y1="719" x2="93.91" y2="719" class="epm"/>
<line x1="90.71" y1="728.7" x2="93.91" y2="728.7" class="epm"/>
<line x1="102.48" y1="717.8" x2="102.48" y2="700.5" class="epm"/>
<line x1="100.88" y1="700.5" x2="104.08" y2="700.5" class="epm"/>
<line x1="100.88" y1="717.8" x2="104.08" y2="717.8" class="epm"/>
<line x1="112.65" y1="731.8" x2="112.65" y2="713" class="epm"/>
<line x1="111.05" y1="713" x2="114.25" y2="713" class="epm"/>
<line x1="111.05" y1="731.8" x2="114.25" y2="731.8" class="epm"/>
<line x1="143.16" y1="719.8" x2="143.16" y2="711.8" class="epm"/>
<line x1="141.56" y1="711.8" x2="144.76" y2="711.8" class="epm"/>
<line x1="141.56" y1="719.8" x2="144.76" y2="719.8" class="epm"/>
<line x1="163.5" y1="719.8" x2="163.5" y2="716.8" class="epm"/>
<line x1="161.9" y1="716.8" x2="165.1" y2="716.8" class="epm"/>
<line x1="161.9" y1="719.8" x2="165.1" y2="719.8" class="epm"/>
</g>
<rect x="60.3" y="730.3" width="3" height="3" fill="#c8232b"/>
<rect x="70.47" y="682.6" width="3" height="3" fill="#c8232b"/>
<rect x="80.64" y="701.9" width="3" height="3" fill="#c8232b"/>
<rect x="90.81" y="722.4" width="3" height="3" fill="#c8232b"/>
<rect x="100.98" y="707.9" width="3" height="3" fill="#c8232b"/>
<rect x="111.15" y="721.2" width="3" height="3" fill="#c8232b"/>
<rect x="141.66" y="714.4" width="3" height="3" fill="#c8232b"/>
<rect x="162" y="716.8" width="3" height="3" fill="#c8232b"/>
<polygon points="71.97,665.7 72.59,667.35 74.35,667.43 72.97,668.52 73.44,670.22 71.97,669.25 70.5,670.22 70.97,668.52 69.59,667.43 71.35,667.35" fill="#c8232b"/>
<polygon points="82.14,687.4 82.76,689.05 84.52,689.13 83.14,690.22 83.61,691.92 82.14,690.95 80.67,691.92 81.14,690.22 79.76,689.13 81.52,689.05" fill="#c8232b"/>
<polygon points="102.48,689.8 103.1,691.45 104.86,691.53 103.48,692.62 103.95,694.32 102.48,693.35 101.01,694.32 101.48,692.62 100.1,691.53 101.86,691.45" fill="#c8232b"/>
<polygon points="143.16,701.8 143.78,703.45 145.54,703.53 144.16,704.62 144.63,706.32 143.16,705.35 141.69,706.32 142.16,704.62 140.78,703.53 142.54,703.45" fill="#c8232b"/>
<polygon points="163.5,707.3 164.12,708.95 165.88,709.03 164.5,710.12 164.97,711.82 163.5,710.85 162.03,711.82 162.5,710.12 161.12,709.03 162.88,708.95" fill="#c8232b"/>

<text x="285.9" y="647.3" class="ti">IL-13</text>
<text transform="translate(201.2 695.85) rotate(-90)" class="yl">pg ml<tspan dy="-3.8" class="sup">−1</tspan></text>
<text transform="translate(284.3 763.1) scale(0.92 1)" class="day">Day</text>
<line x1="229.3" y1="732.4" x2="229.3" y2="657.6" class="ax"/>
<line x1="228.7" y1="731.8" x2="339.8" y2="731.8" class="ax"/>
<line x1="226.7" y1="657.6" x2="229.3" y2="657.6" class="ax"/>
<text transform="translate(222.9 660.2) scale(0.9 1)" class="yt">150</text>
<line x1="226.7" y1="682.4" x2="229.3" y2="682.4" class="ax"/>
<text transform="translate(222.9 685) scale(0.9 1)" class="yt">100</text>
<line x1="226.7" y1="707.1" x2="229.3" y2="707.1" class="ax"/>
<text transform="translate(222.9 709.7) scale(0.9 1)" class="yt">50</text>
<line x1="226.7" y1="731.8" x2="229.3" y2="731.8" class="ax"/>
<text transform="translate(222.9 734.4) scale(0.9 1)" class="yt">0</text>
<line x1="234.4" y1="731.8" x2="234.4" y2="734" class="ax"/>
<text transform="translate(239.4 739.9) rotate(-45) scale(0.9 1)" class="xt">0</text>
<line x1="244.52" y1="731.8" x2="244.52" y2="734" class="ax"/>
<text transform="translate(250.42 740.5) rotate(-45) scale(0.9 1)" class="xt">0-4 h</text>
<line x1="254.64" y1="731.8" x2="254.64" y2="734" class="ax"/>
<text transform="translate(259.64 739.9) rotate(-45) scale(0.9 1)" class="xt">2</text>
<line x1="264.76" y1="731.8" x2="264.76" y2="734" class="ax"/>
<text transform="translate(269.76 739.9) rotate(-45) scale(0.9 1)" class="xt">7</text>
<line x1="274.88" y1="731.8" x2="274.88" y2="734" class="ax"/>
<text transform="translate(279.88 739.9) rotate(-45) scale(0.9 1)" class="xt">14</text>
<line x1="285" y1="731.8" x2="285" y2="734" class="ax"/>
<text transform="translate(290 739.9) rotate(-45) scale(0.9 1)" class="xt">28</text>
<line x1="315.36" y1="731.8" x2="315.36" y2="734" class="ax"/>
<text transform="translate(320.36 739.9) rotate(-45) scale(0.9 1)" class="xt">35</text>
<line x1="335.6" y1="731.8" x2="335.6" y2="734" class="ax"/>
<text transform="translate(340.6 739.9) rotate(-45) scale(0.9 1)" class="xt">56</text>
<line x1="239.46" y1="657.6" x2="239.46" y2="731.8" class="dl"/>
<line x1="290.57" y1="657.6" x2="290.57" y2="731.8" class="dl"/>
<g>
<polyline points="234.4,720.5 244.52,717.7 254.64,720.1 264.76,724.9 274.88,720.5 285,727.8 315.36,728.5 335.6,725.4" class="lsc"/>
</g>
<circle cx="234.4" cy="720.5" r="1.6" fill="#2b2d8e"/>
<circle cx="244.52" cy="717.7" r="1.6" fill="#2b2d8e"/>
<circle cx="254.64" cy="720.1" r="1.6" fill="#2b2d8e"/>
<circle cx="264.76" cy="724.9" r="1.6" fill="#2b2d8e"/>
<circle cx="274.88" cy="720.5" r="1.6" fill="#2b2d8e"/>
<circle cx="285" cy="727.8" r="1.6" fill="#2b2d8e"/>
<circle cx="315.36" cy="728.5" r="1.6" fill="#2b2d8e"/>
<circle cx="335.6" cy="725.4" r="1.6" fill="#2b2d8e"/>
<g>
<polyline points="234.4,722 244.52,685.1 254.64,709.2 264.76,709.9 274.88,703.2 285,718.1 315.36,710.9 335.6,703.7" class="lpm"/>
<line x1="234.4" y1="724.9" x2="234.4" y2="718.9" class="epm"/>
<line x1="232.8" y1="718.9" x2="236" y2="718.9" class="epm"/>
<line x1="232.8" y1="724.9" x2="236" y2="724.9" class="epm"/>
<line x1="244.52" y1="693.1" x2="244.52" y2="672.4" class="epm"/>
<line x1="242.92" y1="672.4" x2="246.12" y2="672.4" class="epm"/>
<line x1="242.92" y1="693.1" x2="246.12" y2="693.1" class="epm"/>
<line x1="254.64" y1="715.2" x2="254.64" y2="703.6" class="epm"/>
<line x1="253.04" y1="703.6" x2="256.24" y2="703.6" class="epm"/>
<line x1="253.04" y1="715.2" x2="256.24" y2="715.2" class="epm"/>
<line x1="264.76" y1="720.5" x2="264.76" y2="699.6" class="epm"/>
<line x1="263.16" y1="699.6" x2="266.36" y2="699.6" class="epm"/>
<line x1="263.16" y1="720.5" x2="266.36" y2="720.5" class="epm"/>
<line x1="274.88" y1="709.2" x2="274.88" y2="697.2" class="epm"/>
<line x1="273.28" y1="697.2" x2="276.48" y2="697.2" class="epm"/>
<line x1="273.28" y1="709.2" x2="276.48" y2="709.2" class="epm"/>
<line x1="285" y1="724.9" x2="285" y2="711.6" class="epm"/>
<line x1="283.4" y1="711.6" x2="286.6" y2="711.6" class="epm"/>
<line x1="283.4" y1="724.9" x2="286.6" y2="724.9" class="epm"/>
<line x1="315.36" y1="722" x2="315.36" y2="700.3" class="epm"/>
<line x1="313.76" y1="700.3" x2="316.96" y2="700.3" class="epm"/>
<line x1="313.76" y1="722" x2="316.96" y2="722" class="epm"/>
<line x1="335.6" y1="706.1" x2="335.6" y2="701.3" class="epm"/>
<line x1="334" y1="701.3" x2="337.2" y2="701.3" class="epm"/>
<line x1="334" y1="706.1" x2="337.2" y2="706.1" class="epm"/>
</g>
<rect x="232.9" y="720.5" width="3" height="3" fill="#c8232b"/>
<rect x="243.02" y="683.6" width="3" height="3" fill="#c8232b"/>
<rect x="253.14" y="707.7" width="3" height="3" fill="#c8232b"/>
<rect x="263.26" y="708.4" width="3" height="3" fill="#c8232b"/>
<rect x="273.38" y="701.7" width="3" height="3" fill="#c8232b"/>
<rect x="283.5" y="716.6" width="3" height="3" fill="#c8232b"/>
<rect x="313.86" y="709.4" width="3" height="3" fill="#c8232b"/>
<rect x="334.1" y="702.2" width="3" height="3" fill="#c8232b"/>
<polygon points="244.52,661.9 245.14,663.55 246.9,663.63 245.52,664.72 245.99,666.42 244.52,665.45 243.05,666.42 243.52,664.72 242.14,663.63 243.9,663.55" fill="#c8232b"/>
<polygon points="254.64,693.7 255.26,695.35 257.02,695.43 255.64,696.52 256.11,698.22 254.64,697.25 253.17,698.22 253.64,696.52 252.26,695.43 254.02,695.35" fill="#c8232b"/>
<polygon points="264.76,688.8 265.38,690.45 267.14,690.53 265.76,691.62 266.23,693.32 264.76,692.35 263.29,693.32 263.76,691.62 262.38,690.53 264.14,690.45" fill="#c8232b"/>
<polygon points="274.88,687.2 275.5,688.85 277.26,688.93 275.88,690.02 276.35,691.72 274.88,690.75 273.41,691.72 273.88,690.02 272.5,688.93 274.26,688.85" fill="#c8232b"/>
<polygon points="335.6,692 336.22,693.65 337.98,693.73 336.6,694.82 337.07,696.52 335.6,695.55 334.13,696.52 334.6,694.82 333.22,693.73 334.98,693.65" fill="#c8232b"/>

<text x="455.8" y="647.3" class="ti">CCL2</text>
<text transform="translate(368.2 694.9) rotate(-90)" class="yl">pg ml<tspan dy="-3.8" class="sup">−1</tspan></text>
<text transform="translate(453.2 763.1) scale(0.92 1)" class="day">Day</text>
<line x1="398.2" y1="732.4" x2="398.2" y2="657.9" class="ax"/>
<line x1="397.6" y1="731.8" x2="508.7" y2="731.8" class="ax"/>
<line x1="395.6" y1="657.9" x2="398.2" y2="657.9" class="ax"/>
<text transform="translate(391.8 660.5) scale(0.9 1)" class="yt">600</text>
<line x1="395.6" y1="682.7" x2="398.2" y2="682.7" class="ax"/>
<text transform="translate(391.8 685.3) scale(0.9 1)" class="yt">400</text>
<line x1="395.6" y1="707.5" x2="398.2" y2="707.5" class="ax"/>
<text transform="translate(391.8 710.1) scale(0.9 1)" class="yt">200</text>
<line x1="395.6" y1="731.8" x2="398.2" y2="731.8" class="ax"/>
<text transform="translate(391.8 734.4) scale(0.9 1)" class="yt">0</text>
<line x1="403" y1="731.8" x2="403" y2="734" class="ax"/>
<text transform="translate(408 739.9) rotate(-45) scale(0.9 1)" class="xt">0</text>
<line x1="413.08" y1="731.8" x2="413.08" y2="734" class="ax"/>
<text transform="translate(418.98 740.5) rotate(-45) scale(0.9 1)" class="xt">0-4 h</text>
<line x1="423.16" y1="731.8" x2="423.16" y2="734" class="ax"/>
<text transform="translate(428.16 739.9) rotate(-45) scale(0.9 1)" class="xt">2</text>
<line x1="433.24" y1="731.8" x2="433.24" y2="734" class="ax"/>
<text transform="translate(438.24 739.9) rotate(-45) scale(0.9 1)" class="xt">7</text>
<line x1="443.32" y1="731.8" x2="443.32" y2="734" class="ax"/>
<text transform="translate(448.32 739.9) rotate(-45) scale(0.9 1)" class="xt">14</text>
<line x1="453.4" y1="731.8" x2="453.4" y2="734" class="ax"/>
<text transform="translate(458.4 739.9) rotate(-45) scale(0.9 1)" class="xt">28</text>
<line x1="483.64" y1="731.8" x2="483.64" y2="734" class="ax"/>
<text transform="translate(488.64 739.9) rotate(-45) scale(0.9 1)" class="xt">35</text>
<line x1="503.8" y1="731.8" x2="503.8" y2="734" class="ax"/>
<text transform="translate(508.8 739.9) rotate(-45) scale(0.9 1)" class="xt">56</text>
<line x1="408.04" y1="657.9" x2="408.04" y2="731.8" class="dl"/>
<line x1="458.94" y1="657.9" x2="458.94" y2="731.8" class="dl"/>
<g>
<polyline points="403,729.8 413.08,699.6 423.16,726.8 433.24,728.5 443.32,728.5 453.4,729.4 483.64,729.9 503.8,727.7" class="lsc"/>
</g>
<circle cx="403" cy="729.8" r="1.6" fill="#2b2d8e"/>
<circle cx="413.08" cy="699.6" r="1.6" fill="#2b2d8e"/>
<circle cx="423.16" cy="726.8" r="1.6" fill="#2b2d8e"/>
<circle cx="433.24" cy="728.5" r="1.6" fill="#2b2d8e"/>
<circle cx="443.32" cy="728.5" r="1.6" fill="#2b2d8e"/>
<circle cx="453.4" cy="729.4" r="1.6" fill="#2b2d8e"/>
<circle cx="483.64" cy="729.9" r="1.6" fill="#2b2d8e"/>
<circle cx="503.8" cy="727.7" r="1.6" fill="#2b2d8e"/>
<g>
<polyline points="403,728.5 413.08,679.1 423.16,708 433.24,727.3 443.32,726.8 453.4,728.5 483.64,726.8 503.8,727.3" class="lpm"/>
<line x1="403" y1="730.8" x2="403" y2="725.8" class="epm"/>
<line x1="401.4" y1="725.8" x2="404.6" y2="725.8" class="epm"/>
<line x1="401.4" y1="730.8" x2="404.6" y2="730.8" class="epm"/>
<line x1="413.08" y1="691.2" x2="413.08" y2="666.6" class="epm"/>
<line x1="411.48" y1="666.6" x2="414.68" y2="666.6" class="epm"/>
<line x1="411.48" y1="691.2" x2="414.68" y2="691.2" class="epm"/>
<line x1="423.16" y1="731.8" x2="423.16" y2="690.7" class="epm"/>
<line x1="421.56" y1="690.7" x2="424.76" y2="690.7" class="epm"/>
<line x1="433.24" y1="729.8" x2="433.24" y2="725.8" class="epm"/>
<line x1="431.64" y1="725.8" x2="434.84" y2="725.8" class="epm"/>
<line x1="431.64" y1="729.8" x2="434.84" y2="729.8" class="epm"/>
<line x1="443.32" y1="728.8" x2="443.32" y2="725.8" class="epm"/>
<line x1="441.72" y1="725.8" x2="444.92" y2="725.8" class="epm"/>
<line x1="441.72" y1="728.8" x2="444.92" y2="728.8" class="epm"/>
<line x1="453.4" y1="730.8" x2="453.4" y2="726.3" class="epm"/>
<line x1="451.8" y1="726.3" x2="455" y2="726.3" class="epm"/>
<line x1="451.8" y1="730.8" x2="455" y2="730.8" class="epm"/>
<line x1="483.64" y1="728.8" x2="483.64" y2="724.8" class="epm"/>
<line x1="482.04" y1="724.8" x2="485.24" y2="724.8" class="epm"/>
<line x1="482.04" y1="728.8" x2="485.24" y2="728.8" class="epm"/>
<line x1="503.8" y1="729.8" x2="503.8" y2="725.8" class="epm"/>
<line x1="502.2" y1="725.8" x2="505.4" y2="725.8" class="epm"/>
<line x1="502.2" y1="729.8" x2="505.4" y2="729.8" class="epm"/>
</g>
<rect x="401.5" y="727" width="3" height="3" fill="#c8232b"/>
<rect x="411.58" y="677.6" width="3" height="3" fill="#c8232b"/>
<rect x="421.66" y="706.5" width="3" height="3" fill="#c8232b"/>
<rect x="431.74" y="725.8" width="3" height="3" fill="#c8232b"/>
<rect x="441.82" y="725.3" width="3" height="3" fill="#c8232b"/>
<rect x="451.9" y="727" width="3" height="3" fill="#c8232b"/>
<rect x="482.14" y="725.3" width="3" height="3" fill="#c8232b"/>
<rect x="502.3" y="725.8" width="3" height="3" fill="#c8232b"/>
<polygon points="413.08,656.6 413.7,658.25 415.46,658.33 414.08,659.42 414.55,661.12 413.08,660.15 411.61,661.12 412.08,659.42 410.7,658.33 412.46,658.25" fill="#c8232b"/>
<polygon points="423.16,680.6 423.78,682.25 425.54,682.33 424.16,683.42 424.63,685.12 423.16,684.15 421.69,685.12 422.16,683.42 420.78,682.33 422.54,682.25" fill="#c8232b"/>

<text x="625.9" y="647.3" class="ti">IL-15</text>
<text transform="translate(536.3 696.05) rotate(-90)" class="yl">pg ml<tspan dy="-3.8" class="sup">−1</tspan></text>
<text transform="translate(619.4 763.1) scale(0.92 1)" class="day">Day</text>
<line x1="564.4" y1="732.4" x2="564.4" y2="657.9" class="ax"/>
<line x1="563.8" y1="731.8" x2="674.9" y2="731.8" class="ax"/>
<line x1="561.8" y1="657.9" x2="564.4" y2="657.9" class="ax"/>
<text transform="translate(558 660.5) scale(0.9 1)" class="yt">200</text>
<line x1="561.8" y1="676.7" x2="564.4" y2="676.7" class="ax"/>
<text transform="translate(558 679.3) scale(0.9 1)" class="yt">150</text>
<line x1="561.8" y1="695.3" x2="564.4" y2="695.3" class="ax"/>
<text transform="translate(558 697.9) scale(0.9 1)" class="yt">100</text>
<line x1="561.8" y1="713.6" x2="564.4" y2="713.6" class="ax"/>
<text transform="translate(558 716.2) scale(0.9 1)" class="yt">50</text>
<line x1="561.8" y1="731.8" x2="564.4" y2="731.8" class="ax"/>
<text transform="translate(558 734.4) scale(0.9 1)" class="yt">0</text>
<line x1="569" y1="731.8" x2="569" y2="734" class="ax"/>
<text transform="translate(574 739.9) rotate(-45) scale(0.9 1)" class="xt">0</text>
<line x1="579.17" y1="731.8" x2="579.17" y2="734" class="ax"/>
<text transform="translate(585.07 740.5) rotate(-45) scale(0.9 1)" class="xt">0-4 h</text>
<line x1="589.34" y1="731.8" x2="589.34" y2="734" class="ax"/>
<text transform="translate(594.34 739.9) rotate(-45) scale(0.9 1)" class="xt">2</text>
<line x1="599.51" y1="731.8" x2="599.51" y2="734" class="ax"/>
<text transform="translate(604.51 739.9) rotate(-45) scale(0.9 1)" class="xt">7</text>
<line x1="609.68" y1="731.8" x2="609.68" y2="734" class="ax"/>
<text transform="translate(614.68 739.9) rotate(-45) scale(0.9 1)" class="xt">14</text>
<line x1="619.85" y1="731.8" x2="619.85" y2="734" class="ax"/>
<text transform="translate(624.85 739.9) rotate(-45) scale(0.9 1)" class="xt">28</text>
<line x1="650.36" y1="731.8" x2="650.36" y2="734" class="ax"/>
<text transform="translate(655.36 739.9) rotate(-45) scale(0.9 1)" class="xt">35</text>
<line x1="670.7" y1="731.8" x2="670.7" y2="734" class="ax"/>
<text transform="translate(675.7 739.9) rotate(-45) scale(0.9 1)" class="xt">56</text>
<line x1="574.09" y1="657.9" x2="574.09" y2="731.8" class="dl"/>
<line x1="625.44" y1="657.9" x2="625.44" y2="731.8" class="dl"/>
<g>
<polyline points="569,718.9 579.17,716 589.34,722.5 599.51,718.9 609.68,717.7 619.85,724.9 650.36,726.6 670.7,722.5" class="lsc"/>
<line x1="670.7" y1="726.3" x2="670.7" y2="718.8" class="esc"/>
<line x1="669.1" y1="718.8" x2="672.3" y2="718.8" class="esc"/>
<line x1="669.1" y1="726.3" x2="672.3" y2="726.3" class="esc"/>
</g>
<circle cx="569" cy="718.9" r="1.6" fill="#2b2d8e"/>
<circle cx="579.17" cy="716" r="1.6" fill="#2b2d8e"/>
<circle cx="589.34" cy="722.5" r="1.6" fill="#2b2d8e"/>
<circle cx="599.51" cy="718.9" r="1.6" fill="#2b2d8e"/>
<circle cx="609.68" cy="717.7" r="1.6" fill="#2b2d8e"/>
<circle cx="619.85" cy="724.9" r="1.6" fill="#2b2d8e"/>
<circle cx="650.36" cy="726.6" r="1.6" fill="#2b2d8e"/>
<circle cx="670.7" cy="722.5" r="1.6" fill="#2b2d8e"/>
<g>
<polyline points="569,718.4 579.17,697.9 589.34,712.8 599.51,717.7 609.68,715.7 619.85,720.5 650.36,716.4 670.7,712.8" class="lpm"/>
<line x1="569" y1="719.8" x2="569" y2="716.8" class="epm"/>
<line x1="567.4" y1="716.8" x2="570.6" y2="716.8" class="epm"/>
<line x1="567.4" y1="719.8" x2="570.6" y2="719.8" class="epm"/>
<line x1="579.17" y1="702.7" x2="579.17" y2="691.2" class="epm"/>
<line x1="577.57" y1="691.2" x2="580.77" y2="691.2" class="epm"/>
<line x1="577.57" y1="702.7" x2="580.77" y2="702.7" class="epm"/>
<line x1="589.34" y1="717.2" x2="589.34" y2="709.2" class="epm"/>
<line x1="587.74" y1="709.2" x2="590.94" y2="709.2" class="epm"/>
<line x1="587.74" y1="717.2" x2="590.94" y2="717.2" class="epm"/>
<line x1="599.51" y1="720.8" x2="599.51" y2="714.3" class="epm"/>
<line x1="597.91" y1="714.3" x2="601.11" y2="714.3" class="epm"/>
<line x1="597.91" y1="720.8" x2="601.11" y2="720.8" class="epm"/>
<line x1="609.68" y1="718.3" x2="609.68" y2="713.3" class="epm"/>
<line x1="608.08" y1="713.3" x2="611.28" y2="713.3" class="epm"/>
<line x1="608.08" y1="718.3" x2="611.28" y2="718.3" class="epm"/>
<line x1="619.85" y1="722.8" x2="619.85" y2="718.3" class="epm"/>
<line x1="618.25" y1="718.3" x2="621.45" y2="718.3" class="epm"/>
<line x1="618.25" y1="722.8" x2="621.45" y2="722.8" class="epm"/>
<line x1="650.36" y1="721.2" x2="650.36" y2="711.6" class="epm"/>
<line x1="648.76" y1="711.6" x2="651.96" y2="711.6" class="epm"/>
<line x1="648.76" y1="721.2" x2="651.96" y2="721.2" class="epm"/>
<line x1="670.7" y1="716.4" x2="670.7" y2="709.2" class="epm"/>
<line x1="669.1" y1="709.2" x2="672.3" y2="709.2" class="epm"/>
<line x1="669.1" y1="716.4" x2="672.3" y2="716.4" class="epm"/>
</g>
<rect x="567.5" y="716.9" width="3" height="3" fill="#c8232b"/>
<rect x="577.67" y="696.4" width="3" height="3" fill="#c8232b"/>
<rect x="587.84" y="711.3" width="3" height="3" fill="#c8232b"/>
<rect x="598.01" y="716.2" width="3" height="3" fill="#c8232b"/>
<rect x="608.18" y="714.2" width="3" height="3" fill="#c8232b"/>
<rect x="618.35" y="719" width="3" height="3" fill="#c8232b"/>
<rect x="648.86" y="714.9" width="3" height="3" fill="#c8232b"/>
<rect x="669.2" y="711.3" width="3" height="3" fill="#c8232b"/>
<polygon points="579.17,681.1 579.79,682.75 581.55,682.83 580.17,683.92 580.64,685.62 579.17,684.65 577.7,685.62 578.17,683.92 576.79,682.83 578.55,682.75" fill="#c8232b"/>
<polygon points="589.34,700.4 589.96,702.05 591.72,702.13 590.34,703.22 590.81,704.92 589.34,703.95 587.87,704.92 588.34,703.22 586.96,702.13 588.72,702.05" fill="#c8232b"/>

</svg></body></html>
